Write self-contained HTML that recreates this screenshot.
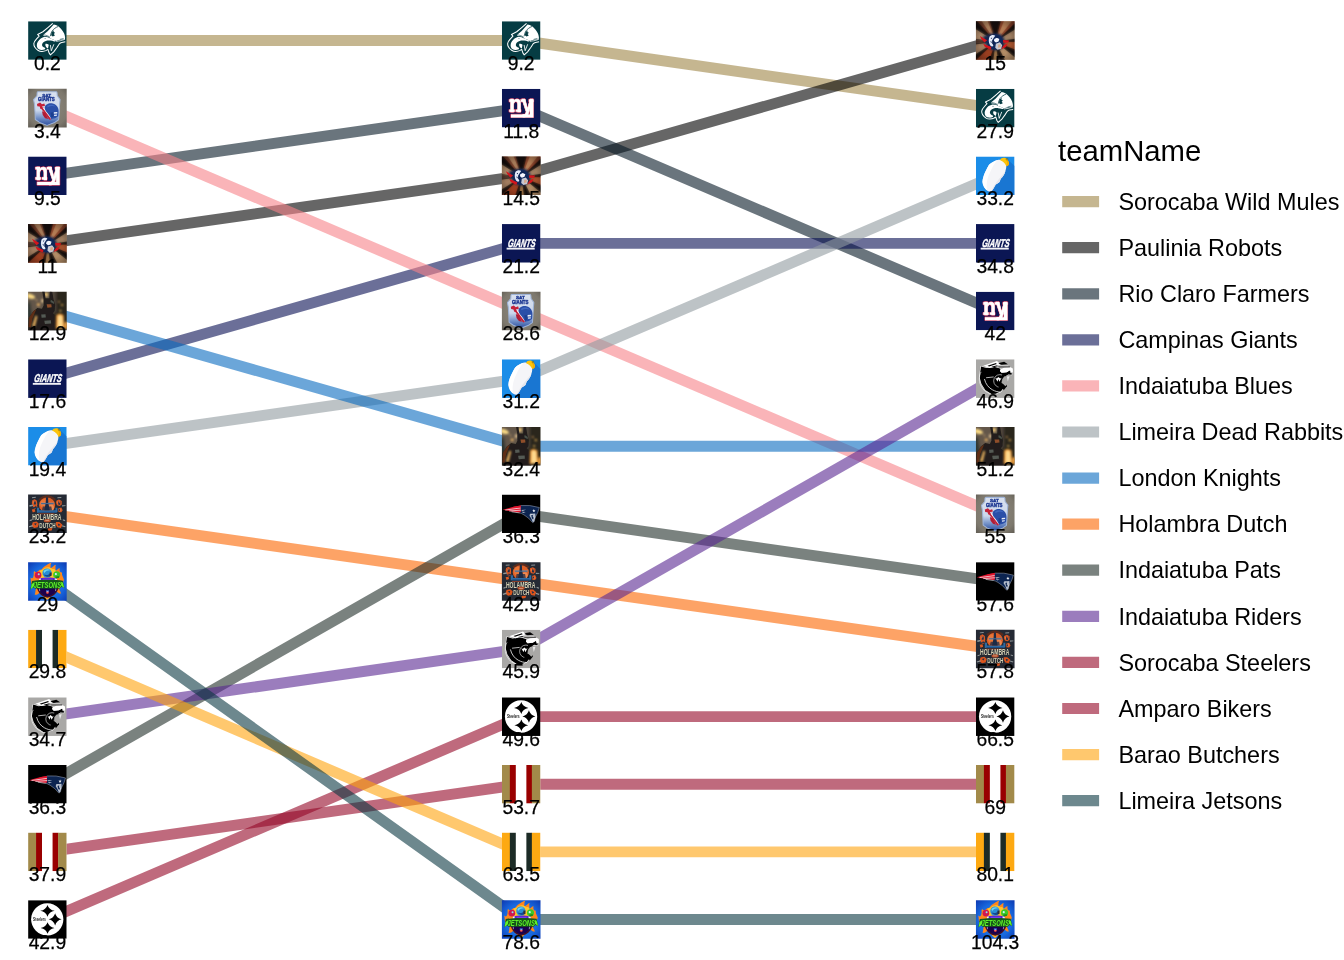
<!DOCTYPE html>
<html lang="en"><head><meta charset="utf-8"><title>teamName bump chart</title>
<style>
html,body{margin:0;padding:0;background:#fff;}
body{width:1344px;height:960px;overflow:hidden;}
svg{display:block;}
text{font-family:"Liberation Sans",sans-serif;fill:#000;}
.v{font-size:19.3px;text-anchor:middle;stroke:#000;stroke-width:.25px;}
.lg{font-size:23.4px;}
.lt{font-size:29.3px;}
</style></head><body>
<svg width="1344" height="960" viewBox="0 0 1344 960">
<defs>
<filter id="b1" x="-10%" y="-10%" width="120%" height="120%"><feGaussianBlur stdDeviation="1.2"/></filter>
<filter id="b2" x="-10%" y="-10%" width="120%" height="120%"><feGaussianBlur stdDeviation="1.8"/></filter>
<filter id="b3" x="-10%" y="-10%" width="120%" height="120%"><feGaussianBlur stdDeviation="2.6"/></filter>
<filter id="b4" x="-10%" y="-10%" width="120%" height="120%"><feGaussianBlur stdDeviation="4.6"/></filter>
<radialGradient id="vig" cx="50%" cy="52%" r="72%"><stop offset="0" stop-color="#000" stop-opacity="0"/><stop offset=".55" stop-color="#000" stop-opacity=".12"/><stop offset="1" stop-color="#000" stop-opacity=".62"/></radialGradient>
</defs>
<rect width="1344" height="960" fill="#fff"/>
<g fill="none" stroke-width="10.9" stroke-linejoin="round" stroke-opacity="0.60">
<polyline stroke="#9e8546" points="47.4,40.5 521.2,40.5 995.2,108.2"/>
<polyline stroke="#000000" points="47.4,243.4 521.2,175.8 995.2,40.5"/>
<polyline stroke="#071926" points="47.4,175.8 521.2,108.2 995.2,311.0"/>
<polyline stroke="#080f53" points="47.4,378.6 521.2,243.4 995.2,243.4"/>
<polyline stroke="#f78289" points="47.4,108.2 521.2,311.0 995.2,513.8"/>
<polyline stroke="#919ba0" points="47.4,446.2 521.2,378.6 995.2,175.8"/>
<polyline stroke="#086bc0" points="47.4,311.0 521.2,446.2 995.2,446.2"/>
<polyline stroke="#fc6600" points="47.4,513.8 521.2,581.4 995.2,649.0"/>
<polyline stroke="#212f2a" points="47.4,784.3 521.2,513.8 995.2,581.4"/>
<polyline stroke="#582691" points="47.4,716.6 521.2,649.0 995.2,378.6"/>
<polyline stroke="#940726" points="47.4,919.5 521.2,716.6 995.2,716.6"/>
<polyline stroke="#940726" points="47.4,851.9 521.2,784.3 995.2,784.3"/>
<polyline stroke="#ffa30d" points="47.4,649.0 521.2,851.9 995.2,851.9"/>
<polyline stroke="#0c3943" points="47.4,581.4 521.2,919.5 995.2,919.5"/>
</g>
<svg x="28.10" y="21.25" width="38.60" height="38.60" viewBox="0 0 100 100" preserveAspectRatio="none" overflow="hidden"><rect width="100" height="100" fill="#063c43"/><path fill="none" stroke="#fff" stroke-width="2.7" stroke-linejoin="round" d="M63.8,5.4 L51.3,16.3 L38.3,27.2 L24.7,34.2 L28.6,38.4 L22,45.7 C18,50 15.4,54 14.9,57.6 C14.6,62 16,65 17.6,67.4 C20,71 22.4,73.4 25.2,75 C29,77.6 32.6,78.4 36.1,78.3 C40,78 43,77.4 45.9,76.1 L51.3,72.8 L54.6,82.6 L57.8,87 L66.5,79.3 L75.2,67.4 L80.7,58.7 C83,56.4 85,55.4 87.2,54.9 L96.4,53.3"/><path fill="#fff" d="M66.5,8.2 C70,9 74,10.4 77.4,12 C81,15 84.4,18.4 87.2,21.7 C90,25.4 92,29 93.7,32.6 C95,36 95.6,39.4 95.9,42.4 L95.3,46.7 L83.9,47.8 L77.4,48.9 L73,51.1 L66.5,47.8 L57.8,44.6 L53.5,40.2 L48,38.6 L39.3,37.5 L40.4,34.2 L51.3,25 L61.1,14.1Z"/><path fill="#fff" d="M42.6,40.2 L51.3,41.3 L57.8,44.6 L66.5,47.8 L73,51.1 C71,52.4 69,52.4 67.6,52.2 C64,51 61,50.2 57.8,50 C53,49.6 49,50 45.9,51.1 C42.6,52.2 40,53.4 38.3,55.4 C36.6,57.4 36,59.6 36.1,62 C36.6,64.4 38,66.4 40.4,67.4 L44.6,69.6 L43.7,72.8 C40,74.4 37,74.8 33.9,74.5 C30.4,74 27.6,72.6 25.2,70.7 C23.4,68 22.4,65 22.5,62 C22.8,58.6 23.6,55.8 25.2,53.3 C27.4,49.6 30,46.8 32.8,44.6 C36,42.4 39.4,41 42.6,40.2Z"/><path fill="#fff" d="M45,58.4 C48,57.4 51,58.6 53.5,61 L51.5,70.5 L47.6,68 C45,65 44.2,61.6 45,58.4Z"/><path fill="none" stroke="#fff" stroke-width="2.2" d="M57.6,61.4 L60.2,76.4 L66.8,59.6"/><path fill="none" stroke="#fff" stroke-width="2" d="M73,52.4 C76,51.6 79,50.8 83,50.6 L95.3,47"/><path fill="none" stroke="#063c43" stroke-width="2" d="M78,13.4 C72,16 66,20 62.4,25 C60,29 58.6,33 57.6,38.6"/><path fill="#063c43" d="M62,27 L67,23.6 L66,28 L70,30 L66.6,33 L69.6,37 L64,39.6 L60,37 C59.6,33 60.4,30 62,27Z"/><path fill="none" stroke="#063c43" stroke-width="1.5" d="M40.4,35.2 C46,36.2 52,37.8 56.6,41.4 M82,47 L92,44.6"/><ellipse cx="44.2" cy="45.1" rx="2.2" ry="1.2" fill="#4f7a80"/></svg>
<svg x="28.10" y="88.86" width="38.60" height="38.60" viewBox="0 0 100 100" preserveAspectRatio="none" overflow="hidden"><radialGradient id="u2a" cx="50%" cy="48%" r="72%"><stop offset="0" stop-color="#8f8a7e"/><stop offset=".6" stop-color="#7d786d"/><stop offset="1" stop-color="#47433c"/></radialGradient><linearGradient id="u2b" x1="0" y1="0" x2="0" y2="1"><stop offset="0" stop-color="#d9e1ef"/><stop offset=".55" stop-color="#ccd8ec"/><stop offset=".78" stop-color="#7391c8"/><stop offset="1" stop-color="#2a4c9e"/></linearGradient><rect x="-12" y="-12" width="124" height="124" fill="url(#u2a)"/><g filter="url(#b1)"><path fill="url(#u2b)" stroke="#9fb4d8" stroke-width="2.6" stroke-linejoin="round" d="M25.5,7.4 L73,7.4 Q75,7.6 75,10 L75.6,18 L82.8,28 L81.6,40 L80.4,62 L79,80 L69,87 L49.1,94.6 L29.6,87 L18.7,79.3 L18,62 L16.6,40 L14.3,28 L23,18 L23.4,10 Q23.6,7.6 25.5,7.4Z"/><text x="48" y="19.8" text-anchor="middle" font-size="11" font-weight="bold" textLength="23" lengthAdjust="spacingAndGlyphs" style="fill:#213b94;stroke:#213b94;stroke-width:1">SAT</text><text x="47.4" y="32.6" text-anchor="middle" font-size="15.5" font-weight="bold" textLength="43" lengthAdjust="spacingAndGlyphs" style="fill:#213b94;stroke:#213b94;stroke-width:1.3">GIANTS</text><path fill="#c42038" d="M23,39 L31,35.6 L36,40 L42,38 L44,44 L36,46 L40,52 L32,52 L30,46 L24,45Z"/><path fill="#c42038" d="M33,50 L40,47 L62,78 L55,80Z"/><path fill="#fff" d="M37.6,49 L41.6,47.6 L62,75.6 L59,77.4Z"/><path fill="#b01c34" d="M36,58 L44,62 L52,78 L44,76 L38,68Z"/><path fill="#2b4fa8" d="M43,49 C44,40 55,35.6 64,38 C75,41 80,50 79,60 L78,71 L70,76 L60,78 L55,69 L49,61 C45,57 43,53 43,49Z"/><path fill="#4168c0" d="M50,44 C56,39.6 66,40 72,46 C66,44 58,44 50,48Z"/><path fill="#e8eefa" d="M66,60.6 L75.6,60 L75.6,63.6 L66,64.6Z M67,67 L75,66.4 L74.6,69.4 L67.6,70.4Z"/><path fill="#1f3f90" d="M58,62 L66,60 L66,72 L60,75Z"/></g></svg>
<svg x="28.10" y="156.47" width="38.60" height="38.60" viewBox="0 0 100 100" preserveAspectRatio="none" overflow="hidden"><rect width="100" height="100" fill="#0b1654"/><g style="fill:#b8123a;stroke:#b8123a;stroke-width:3.4;stroke-linejoin:round"><text x="50" y="60.4" text-anchor="middle" font-size="62" font-weight="bold" textLength="62" lengthAdjust="spacingAndGlyphs" style="fill:#b8123a;stroke:#b8123a;stroke-width:3.6">ny</text><path d="M23.5,66.2 H72.6 V30 H81.6 V74 H23.5Z M19,27.4 h12 v6 h-12z M48.6,27.4 h12 v6 h-12z M70,27.4 h12 v6 h-12z M19,54 h14 v5.6 h-14z M36,54 h13 v5.6 h-13z"/></g><g style="fill:#fff;stroke:#fff;stroke-width:1;stroke-linejoin:round"><text x="50" y="60.4" text-anchor="middle" font-size="62" font-weight="bold" textLength="62" lengthAdjust="spacingAndGlyphs" style="fill:#fff;stroke:#fff;stroke-width:1.5">ny</text><path d="M23.5,66.2 H72.6 V30 H81.6 V74 H23.5Z M19,27.4 h12 v6 h-12z M48.6,27.4 h12 v6 h-12z M70,27.4 h12 v6 h-12z M19,54 h14 v5.6 h-14z M36,54 h13 v5.6 h-13z"/></g></svg>
<svg x="28.10" y="224.08" width="38.60" height="38.60" viewBox="0 0 100 100" preserveAspectRatio="none" overflow="hidden"><g filter="url(#b3)"><rect x="-12" y="-12" width="124" height="124" fill="#17110e"/><polygon fill="#93452a" points="54.4,39.4 72.8,-34.3 115.7,-9.5 61.1,43.3"/><polygon fill="#c58a5e" points="56.2,40.0 84.7,-30.4 106.4,-17.9 59.6,42.0"/><polygon fill="#7a3c28" points="41.6,42.6 -9.2,-13.9 26.2,-33.5 47.1,39.5"/><polygon fill="#b98a64" points="43.2,41.4 0.7,-21.6 18.7,-31.0 46.0,39.9"/><polygon fill="#b89270" points="37.1,51.1 -38.1,40.5 -25.3,5.3 39.1,45.6"/><polygon fill="#b08868" points="39.1,60.4 -25.3,100.7 -38.1,65.5 37.1,54.9"/><polygon fill="#54382c" points="37.1,54.2 -38.7,60.8 -38.3,42.0 37.1,51.3"/><polygon fill="#ad8a6a" points="62.9,45.6 127.3,5.3 139.9,38.9 64.8,50.8"/><polygon fill="#b45a32" points="65.0,53.2 141.0,54.6 134.4,86.7 64.0,58.2"/><polygon fill="#c49a70" points="61.9,61.8 120.9,109.6 91.9,133.2 57.4,65.5"/><polygon fill="#a87a4c" points="52.7,66.9 62.0,142.3 40.0,142.3 49.3,66.9"/><polygon fill="#a84424" points="46.4,66.2 21.7,138.1 -14.8,114.4 40.8,62.5"/></g><g opacity=".5"><rect x="-12" y="-12" width="124" height="124" fill="#17110e"/><polygon fill="#93452a" points="54.4,39.4 72.8,-34.3 115.7,-9.5 61.1,43.3"/><polygon fill="#c58a5e" points="56.2,40.0 84.7,-30.4 106.4,-17.9 59.6,42.0"/><polygon fill="#7a3c28" points="41.6,42.6 -9.2,-13.9 26.2,-33.5 47.1,39.5"/><polygon fill="#b98a64" points="43.2,41.4 0.7,-21.6 18.7,-31.0 46.0,39.9"/><polygon fill="#b89270" points="37.1,51.1 -38.1,40.5 -25.3,5.3 39.1,45.6"/><polygon fill="#b08868" points="39.1,60.4 -25.3,100.7 -38.1,65.5 37.1,54.9"/><polygon fill="#54382c" points="37.1,54.2 -38.7,60.8 -38.3,42.0 37.1,51.3"/><polygon fill="#ad8a6a" points="62.9,45.6 127.3,5.3 139.9,38.9 64.8,50.8"/><polygon fill="#b45a32" points="65.0,53.2 141.0,54.6 134.4,86.7 64.0,58.2"/><polygon fill="#c49a70" points="61.9,61.8 120.9,109.6 91.9,133.2 57.4,65.5"/><polygon fill="#a87a4c" points="52.7,66.9 62.0,142.3 40.0,142.3 49.3,66.9"/><polygon fill="#a84424" points="46.4,66.2 21.7,138.1 -14.8,114.4 40.8,62.5"/></g><rect x="-2" y="-2" width="104" height="104" fill="url(#vig)" opacity=".8"/><g filter="url(#b3)"><path fill="#14264f" d="M18,40 L36,33 L50,31 L64,34 L73,45 L74,58 L67,71 L52,76 L38,73 L29,65 L21,52Z"/></g><ellipse cx="49.6" cy="53.4" rx="19.8" ry="19.6" fill="#10295c"/><path fill="#d4141c" d="M10,38 L29,49 L22,55 L15,47Z M19,58 L40,67 L37.4,73.6 L23,66Z M69.8,48.4 L86,49.6 L83.4,55 L71,56Z M70.9,63 L82.4,57 L78,67 L66,72.6Z"/><path fill="#e4eaf8" d="M35,40 C39,34.6 47,34.6 50,37.6 C47,41 45,44 43,48 C45,52 43,58 45,63 C43,67 38.6,65 36,61 C32.6,55 32.4,46 35,40Z"/><path fill="#f4f6ff" d="M47.6,46 L54,42.6 L60.6,46 L58.6,52.6 L52,55 L46.6,51.6Z"/><path fill="#c9c9d2" d="M51.6,58 L62,54.6 L68,62 L65,71 L56,74 L50,68.6Z"/><path fill="#d8aa8c" d="M58,60 L64.6,60 L63.6,67.6 L57,68.6Z"/><path fill="#0d2150" d="M42,48 L48,52 L46,62 L42,58Z M50,40 L56,38 L60,42 L54,43Z M38,44 L42,42 L41,46Z M37,52 L41,53 L40,57Z"/></svg>
<svg x="28.10" y="291.69" width="38.60" height="38.60" viewBox="0 0 100 100" preserveAspectRatio="none" overflow="hidden"><g filter="url(#b4)"><rect x="-12" y="-12" width="124" height="124" fill="#332d27"/><rect x="-12" y="-12" width="68" height="76" fill="#63564a"/><rect x="56" y="-12" width="16" height="66" fill="#51473d"/><rect x="72" y="-12" width="40" height="124" fill="#29251f"/><path fill="#2c3432" d="M-6,28 L5,26 L11,64 L-6,68Z"/></g><g filter="url(#b3)"><path fill="#f8d884" d="M-4,4 L8,6 L17,11 L18,17.6 L8,19 L-4,15Z"/><ellipse cx="47" cy="8" rx="4.6" ry="5.6" fill="#f5cc78"/><ellipse cx="26.6" cy="33.6" rx="4" ry="3.8" fill="#ecb464"/><ellipse cx="37.6" cy="24" rx="4" ry="5.6" fill="#d9b98a"/><ellipse cx="22" cy="22" rx="2.4" ry="2.4" fill="#b99566"/><ellipse cx="80" cy="26" rx="2.6" ry="2.6" fill="#b98a50"/><ellipse cx="88" cy="34.4" rx="3.2" ry="2.8" fill="#c79a4a"/><ellipse cx="83.6" cy="49.6" rx="3" ry="3" fill="#c9a04e"/></g><g filter="url(#b2)"><path fill="#211f1b" d="M36,-4 L42.6,-2 L45,17 L55,17 L56.4,-2 L62.6,0 L66,20 L70,34 L69,50 L64,56 L72,62 L76,80 L76,110 L0,110 L2,68 L13,51 L24,42 L36,44 L40,36 L40,20Z"/><path fill="#8f4e2a" d="M48,32.6 L60,32.6 L61,40.6 L50,41.6Z"/><path fill="#4a514b" d="M59,21 L67,26 L67,32 L58,27Z"/><path fill="#555a54" d="M34,59.4 L45,58.6 L46,66.6 L35,67.4Z M42,75 L59,74 L59.6,82.6 L43.6,84Z"/><path fill="#5e2e16" d="M3,66 L14,50 L21,46 L11,70 L7,92 L1,92Z"/></g><g filter="url(#b3)"><path fill="#f09a30" d="M73,62 C78,55 88,57 92,62 L94,94 L72,96Z"/><path fill="#ffdc90" d="M77.6,63 C82,59 87.6,61 88.6,66 L90,92 L76.6,94Z"/><path fill="#f0a040" d="M95,79 L106,77 L106,96 L94,96Z"/><path fill="#f0b860" d="M19.6,61 L24,64 L17.6,90 L10,90Z"/></g></svg>
<svg x="28.10" y="359.30" width="38.60" height="38.60" viewBox="0 0 100 100" preserveAspectRatio="none" overflow="hidden"><rect width="100" height="100" fill="#0b1654"/><text transform="skewX(-9)" x="59.6" y="58.6" text-anchor="middle" font-size="29.5" font-weight="bold" font-style="italic" textLength="71" lengthAdjust="spacingAndGlyphs" style="fill:#fff;stroke:#fff;stroke-width:1.1">GIANTS</text><rect x="12.2" y="61.2" width="72.8" height="4.8" fill="#f2f2f6"/></svg>
<svg x="28.10" y="426.91" width="38.60" height="38.60" viewBox="0 0 100 100" preserveAspectRatio="none" overflow="hidden"><rect width="100" height="100" fill="#1b8de8"/><path fill="#1976d2" d="M84,9 L100,25 L100,100 L40,100 L28,88 L60,50 Z"/><path fill="#f5f5f8" d="M63.3,8.7 C68,10.6 72,13 75.2,16.3 C77.6,19 78.6,22 78.5,25 C78.6,30 77.6,34 76.3,38 C75.4,42 74,45 72,47.8 C70,51.6 67,54.6 64.3,57.6 L61.1,66.3 C58,69 54.6,71 51.3,72.8 L45.9,82.6 C44,86 42,89 39.3,91.3 C36,92 32.6,91 29.6,89.1 C26,86.4 23,83 20.9,79.3 C18.4,75 16.8,70.6 16.5,66.3 C16.6,61 17.8,56 19.8,51.1 C21.4,46 23.6,41 26.3,35.9 C28.4,31 31,26 33.9,21.7 C37,18 41,15 45.9,13 C49,11.2 52.4,10 55.7,9.2 C58.4,8.6 61,8.4 63.3,8.7Z"/><path fill="#ffffff" d="M55.7,9.2 C45.9,13 37,18 33.9,21.7 C28.4,31 21.4,46 19.8,51.1 C16.6,61 16.4,68 20.9,79.3 C23,83 26,86.4 29.6,89.1 C26,76 28,58 36,42 C41,30 48,18 55.7,9.2Z"/><path fill="#e6e6ec" d="M76.3,38 C74,46 70,52 64.3,57.6 L61.1,66.3 L51.3,72.8 L45.9,82.6 C44,86 42,89 39.3,91.3 C42,82 50,70 58,60 C65,52 71,45 76.3,38Z"/><path fill="#fcc40c" d="M62,9.4 Q66,2 75,3.4 Q84,7 85.6,17 Q85.6,24 78.6,25.4 Q75.6,16 62,9.4Z"/><path fill="#f5ad00" d="M75,3.6 Q83,7 85.6,17 Q85.6,24 78.6,25.4 Q84,15 75,3.6Z"/><circle cx="80.6" cy="7" r="2.4" fill="none" stroke="#6b6a1c" stroke-width="1.5"/></svg>
<svg x="28.10" y="494.52" width="38.60" height="38.60" viewBox="0 0 100 100" preserveAspectRatio="none" overflow="hidden"><rect x="-12" y="-12" width="124" height="124" fill="#252a34"/><g filter="url(#b1)"><path fill="#5a2c1c" d="M27,12 Q49,-8 72,12 L68,16 Q49,0 31,16Z"/><ellipse cx="49.1" cy="27" rx="21" ry="19" fill="#dd5f28"/><ellipse cx="42" cy="24" rx="11" ry="12" fill="#ea7436"/><ellipse cx="60" cy="34" rx="7" ry="8" fill="#ee8a52"/><path fill="#de5a24" d="M11,15 L17,12 L23,16 L24,27 L19,33 L12,30 L9.6,22Z M14,28 L22,25 L24.6,33 L18,37 L12,34Z M9.6,39 L17,37.6 L18.6,44 L12,46.4Z"/><path fill="#de5a24" d="M73,16 L80,13 L87,17 L87,26 L82,30 L75,28 L72.6,22Z M78,36 L86,33.6 L89.6,41 L86,46 L79,45.6Z"/><path fill="#f08a4c" d="M13,18 L16,16 L17,22 L14,23Z M76,19 L79,17 L80,23 L77,24Z M81,38 L84,37 L85,42 L82,43Z"/><path fill="#23304a" d="M15,14 L18,22 L21,15 L20,26 L15,26Z M78,15 L81,23 L84,16 L83,27 L78,26Z M18,28 L21,33 L17,35Z M80,36 L84,40 L80,44Z M11,33 L24,31 L24,34 L11,36Z"/><path fill="#8f9698" d="M3,28 L12,26 L13,30 L4,31.6Z M88,27.6 L97,28 L97,30 L88,31Z M10,7 L20,6 L20,8.6 L10,9.4Z M76,7 L86,6.4 L86,9 L76,9.6Z"/><path fill="#2f6ba3" d="M23,41 L74,41 L74,47 L23,47Z M23,34 L28.6,34 L28.6,45 L23,45Z M71,34 L76,34 L76,45 L71,45Z"/><path fill="#1f4e80" d="M27,44.6 L72,44.6 L72,47.4 L27,47.4Z"/><path fill="#8ea0b2" d="M33,20.6 L66.5,20.6 L66.5,26 L33,26Z" opacity=".55"/><path fill="#1c2a44" d="M46.6,7 L51.6,7 L52.4,22 L56,41 L42,41 L45.6,22Z"/><path fill="#466a92" d="M33.6,22 L66,22 L66,24.8 L33.6,24.8Z"/><path fill="#1c2a44" d="M38,31 L60,31 L62,41 L36,41Z" opacity=".75"/><path fill="#c84a22" d="M26,49.4 L68,49.4 L68,51 L26,51Z"/><path fill="#dc541e" d="M12,72 L22,70 L28,76 L25,85 L16,87 L9,82Z M72,71 L81,71 L89,78 L85,87 L76,85 L72,78Z M51,88 L63,87 L61,93 L52,94Z"/><path fill="#23304a" d="M15,76 L22,74 L20,80Z M77,75 L84,78 L79,82Z"/><path fill="#8f9698" d="M2,82 L12,79 L12,82.6 L3,85Z M88,79.6 L97,82 L96,85 L88,82.6Z M4,66 L10,64 L10,67 L4,69Z M90,64 L96,66 L96,69 L90,67Z"/><text x="48.5" y="66.6" text-anchor="middle" font-size="25" font-weight="bold" textLength="76" lengthAdjust="spacingAndGlyphs" style="fill:#d6d2b4;stroke:#1a1e28;stroke-width:.5;paint-order:stroke">HOLAMBRA</text><text x="50.2" y="85.6" text-anchor="middle" font-size="21" font-weight="bold" textLength="42" lengthAdjust="spacingAndGlyphs" style="fill:#d6d2b4;stroke:#1a1e28;stroke-width:.5;paint-order:stroke">DUTCH</text><ellipse cx="49.6" cy="67.8" rx="9.2" ry="4.4" fill="#b9502a"/><path fill="#e9d9c0" d="M44.6,67.2 L54.6,67.2 L54.6,68.4 L44.6,68.4Z"/></g></svg>
<svg x="28.10" y="562.13" width="38.60" height="38.60" viewBox="0 0 100 100" preserveAspectRatio="none" overflow="hidden"><radialGradient id="u9a" cx="50%" cy="52%" r="70%"><stop offset="0" stop-color="#2390f2"/><stop offset=".5" stop-color="#1868de"/><stop offset="1" stop-color="#07209a"/></radialGradient><rect x="-12" y="-12" width="124" height="124" fill="url(#u9a)"/><g filter="url(#b1)"><path fill="#ff861c" d="M61,1 C56,8 60,12 57,17 C63,14 67,8 72,7 C69,13 73,17 70,23 C76,20 80,14 82,16 C80,24 84,28 88,27 C86,34 92,40 93,46 C90,48 92,56 88,62 L80,70 C84,76 86,80 84,82 C78,80 74,76 70,74 L60,86 C56,92 52,96 49,98 C46,92 40,90 36,86 L30,78 C26,84 20,86 17,84 C20,78 18,72 21,68 L10,60 C6,54 8,46 6,40 C10,44 13,42 14,36 C16,30 13,26 16,23 C20,28 24,26 28,22 C30,18 34,22 36,18 C38,12 46,10 50,6 C54,4 58,2 61,1Z"/><path fill="#ffc62c" d="M38,19 C46,11 56,12 63,18 C70,16 74,23 72,29 C78,34 72,45 65,47 L35,47 C26,43 25,33 30,28 C30,21 34,19 38,19Z"/><path fill="#ffb02a" d="M40,88 C44,84 54,84 58,88 C56,93 52,95.6 49,97 C46,94 42,92 40,88Z"/><path fill="#4a1020" d="M22,62 C30,56 70,56 80,62 C78,80 62,92 50,92 C38,92 24,80 22,62Z"/><path fill="#1c064e" d="M24,60 C34,55 68,55 78,60 C76,77 62,88.6 50,88.6 C38,88.6 26,77 24,60Z"/><path fill="#5a22c8" d="M30,42 C40,39 62,39 74,42 L76,52 L28,52Z"/><path fill="#f1ecff" d="M28.6,43 L33,41.6 L33,49 L28,50Z M69,41.6 L74.6,43 L75,50 L69,49Z"/><path fill="#7a3cf0" d="M38,43 L64,43 L64,46 L38,46Z"/><circle cx="25.8" cy="33.7" r="8.6" fill="#d01850"/><circle cx="27.6" cy="31.4" r="2.6" fill="#8fe0f0"/><circle cx="74.1" cy="32.6" r="9.2" fill="#3cc828"/><circle cx="72" cy="31" r="2.8" fill="#c9f4ff"/><path fill="#1b8a1e" d="M70,38 L80,36 L80,41 L72,42Z"/><circle cx="49.1" cy="28.3" r="12" fill="#2a8fd6"/><path fill="#6fd6f2" d="M40,24 C43,17.6 53,16.6 58,21 C52,20.6 46,22 42,28Z"/><path fill="#14488f" d="M40,32 C44,38 54,40 59,36 L58,28 C54,34 46,34 40,32Z"/><path fill="#2b2f3f" d="M55.6,27 L61,27 L61,35.6 L56,36.6Z"/><path fill="none" stroke="#e8e4ff" stroke-width="1.6" stroke-dasharray="2.2 1.4" d="M33,65.6 L67,65.6"/><path fill="none" stroke="#cfc6f4" stroke-width="1.6" d="M29,66 L30,75 M72,66 L71,75"/><path fill="#2a55c0" d="M46.4,72.4 L54,72.4 L54,77 L46.4,77Z"/><path fill="#e23a3a" d="M46.4,77 L54,77 L53,81 L50.2,82.6 L47.4,81Z"/><path fill="#fff" d="M48,76 L52.6,76 L52.6,78 L48,78Z"/><path fill="#14551b" d="M10,49 C30,45 70,45 90,48 L94,67 L87,64 L82,68.6 L18,68.6 L13,65 L6,71Z"/><path fill="#62f22c" d="M9,57 L17,51 L16,62 L7,70Z M84,51 L90,53 L93.6,67 L86,61Z"/><text x="50" y="66" text-anchor="middle" font-size="25" font-weight="bold" font-style="italic" textLength="71" lengthAdjust="spacingAndGlyphs" style="fill:#5ef02a;stroke:#124d18;stroke-width:1.7;paint-order:stroke">JETSONS</text></g></svg>
<svg x="28.10" y="629.74" width="38.60" height="38.60" viewBox="0 0 100 100" preserveAspectRatio="none" overflow="hidden"><rect width="100" height="100" fill="#fff"/><rect x="0" width="21" height="100" fill="#fda912"/><rect x="20.6" width="15.4" height="100" fill="#1c2b26"/><rect x="63.4" width="14.6" height="100" fill="#1c2b26"/><rect x="77.6" width="22.4" height="100" fill="#fda912"/></svg>
<svg x="28.10" y="697.35" width="38.60" height="38.60" viewBox="0 0 100 100" preserveAspectRatio="none" overflow="hidden"><rect width="100" height="100" fill="#a9a8a6"/><path fill="#000" stroke="#fff" stroke-width="2.6" stroke-linejoin="round" style="paint-order:stroke" d="M13.3,18.5 L27.4,22.8 L49.1,20.1 L62.2,23.9 L64.3,25 L62.2,30.4 L66.5,34.8 L79.6,33.7 L87.2,29.3 L92.6,33.7 L92.6,40.2 L83.9,39.1 L78.5,42.4 L73,44.6 L67.6,51.1 L66.5,62 L72,66.3 L70.9,75 L64.3,83.7 L51.3,89.1 L40.4,90.2 L24.1,79.3 L14.3,64.1 L10,48.9 L11.1,32.6 Z"/><path fill="#fff" d="M18.7,16.8 L54.6,4.3 L63.3,13 L53.5,18.5 L35,22.3Z"/><path fill="#000" d="M30,16.4 L52,9.4 L54,12 L34,18.4Z M40,19.4 L58,14.6 L59,17 L46,20.4Z"/><path fill="none" stroke="#fff" stroke-width="1.6" d="M53,6 L57.6,17"/><path fill="#000" d="M62.2,8.7 L73,6.5 L82.8,13 L73,13.4 L66.5,14.4 L58,11Z"/><path fill="#fff" d="M64.3,25 L73,21.8 L90,20.6 L95.6,24 L95.8,33.4 L89.6,35.4 L88.6,28 L80,33.6 L66.5,34.8 L62.2,30.4Z"/><path fill="none" stroke="#fff" stroke-width="1.5" d="M55,16.6 L84,17.4"/><path fill="none" stroke="#000" stroke-width="1.6" d="M58,19.6 L88,19.6"/><circle cx="62.2" cy="56" r="16.3" fill="none" stroke="#fff" stroke-width="1.5"/><path fill="#000" d="M67.6,38 L80,44 L80,70 L72,80 L67,70 Z"/><path fill="#a9a8a6" d="M73,44.8 L84,42 L92,41 L86,60 L76,70 L72.6,66 L67.2,62 L68,51.4Z"/><path fill="none" stroke="#fff" stroke-width="1.8" d="M26.3,47.8 L45.9,45.7"/><path fill="none" stroke="#fff" stroke-width="2" d="M22,51 C25,64 33,74 42.6,79 C50,83 57,85 64.3,84.8"/><path fill="#fff" d="M50,47.6 L56,58 L58,51 L61,58 L66.4,47.6 L63,50 L58,46 L54,50Z"/><path fill="none" stroke="#fff" stroke-width="1.5" d="M13.3,32.6 C7,44 7,60 14.3,70.7 C19,79 24,84 29.6,85.9 L40.4,92.4"/><path fill="#e9e9e9" d="M80,44.4 L87,44 L82.6,57.6Z"/><path fill="#000" d="M60,62 L67,62 L72,66.3 L70.9,75 L64,80 L58,72Z"/></svg>
<svg x="28.10" y="764.96" width="38.60" height="38.60" viewBox="0 0 100 100" preserveAspectRatio="none" overflow="hidden"><rect width="100" height="100" fill="#000"/><path fill="#e0162e" d="M2.4,39.4 L30,31.6 L48.8,28.4 L51,46.6 L43,46.6 L24,43.8Z"/><path fill="none" stroke="#f7f7f9" stroke-width="1.9" d="M9,40.2 L50,34.6 M19,42.6 L51,40.4"/><path fill="none" stroke="#eef0f4" stroke-width="1.7" d="M25,44.6 L46,47.6"/><path fill="#0c2450" d="M48.4,28.6 Q72,26 97,33.7 L93,46 L87,58 L83,71 L79.6,72.8 Q70,60 57,52.6 Q51,49 45,47.2 L49.4,45 Z"/><path fill="none" stroke="#b4bcc8" stroke-width="1.2" stroke-linejoin="round" d="M48.4,28.6 Q72,26 97,33.7 L93,46 L87,58 L83,71 L79.6,72.8 Q70,60 57,52.6 Q51,49 45,47.2"/><path fill="#e0162e" d="M30,31.6 L48.8,28.4 L49.6,33 L30,34.6Z"/><path fill="#b4bdcc" d="M72.6,50 L86.6,49 L87,57 L83.6,69.6 L80,72 Q77,62 71.6,55Z"/><path fill="#0c2450" d="M76,53 l4.6,.6 l-.8,4.4 l3,2.4 l-2.2,4.4 l-3,-3.6z"/><path fill="#dfe3ea" d="M74,51 l4,-.4 l-1,3z M82,60 l3,-1 l-1.4,5z"/><path fill="#fff" d="M82.8,37.8 L83.9,40.7 L87.0,40.8 L84.5,42.8 L85.4,45.8 L82.8,44.0 L80.2,45.8 L81.1,42.8 L78.6,40.8 L81.7,40.7Z"/><path fill="#e8eaee" d="M49.6,40 l13,-.6 l-9,2.8z M51,44.6 l11,1 l-7,1.6z"/></svg>
<svg x="28.10" y="832.57" width="38.60" height="38.60" viewBox="0 0 100 100" preserveAspectRatio="none" overflow="hidden"><rect width="100" height="100" fill="#fff"/><rect x="0" width="21" height="100" fill="#a28a4a"/><rect x="20.6" width="15.4" height="100" fill="#990000"/><rect x="63.4" width="14.6" height="100" fill="#990000"/><rect x="77.6" width="22.4" height="100" fill="#a28a4a"/></svg>
<svg x="28.10" y="900.18" width="38.60" height="38.60" viewBox="0 0 100 100" preserveAspectRatio="none" overflow="hidden"><rect width="100" height="100" fill="#000"/><circle cx="49.6" cy="49.6" r="41.8" fill="#fff"/><path fill="#000" d="M50.2,12.2 Q53.9,24.5 68.8,27.6 Q53.9,30.7 50.2,43.0 Q46.5,30.7 31.6,27.6 Q46.5,24.5 50.2,12.2Z M70.0,33.6 Q73.4,46.4 86.8,49.6 Q73.4,52.8 70.0,65.6 Q66.6,52.8 53.2,49.6 Q66.6,46.4 70.0,33.6Z M50.4,57.2 Q54.0,69.2 68.4,72.2 Q54.0,75.2 50.4,87.2 Q46.8,75.2 32.4,72.2 Q46.8,69.2 50.4,57.2Z"/><text x="13" y="53.4" font-size="11.5" font-weight="bold" textLength="33" lengthAdjust="spacingAndGlyphs" style="fill:#222">Steelers</text></svg>
<svg x="501.90" y="21.25" width="38.60" height="38.60" viewBox="0 0 100 100" preserveAspectRatio="none" overflow="hidden"><rect width="100" height="100" fill="#063c43"/><path fill="none" stroke="#fff" stroke-width="2.7" stroke-linejoin="round" d="M63.8,5.4 L51.3,16.3 L38.3,27.2 L24.7,34.2 L28.6,38.4 L22,45.7 C18,50 15.4,54 14.9,57.6 C14.6,62 16,65 17.6,67.4 C20,71 22.4,73.4 25.2,75 C29,77.6 32.6,78.4 36.1,78.3 C40,78 43,77.4 45.9,76.1 L51.3,72.8 L54.6,82.6 L57.8,87 L66.5,79.3 L75.2,67.4 L80.7,58.7 C83,56.4 85,55.4 87.2,54.9 L96.4,53.3"/><path fill="#fff" d="M66.5,8.2 C70,9 74,10.4 77.4,12 C81,15 84.4,18.4 87.2,21.7 C90,25.4 92,29 93.7,32.6 C95,36 95.6,39.4 95.9,42.4 L95.3,46.7 L83.9,47.8 L77.4,48.9 L73,51.1 L66.5,47.8 L57.8,44.6 L53.5,40.2 L48,38.6 L39.3,37.5 L40.4,34.2 L51.3,25 L61.1,14.1Z"/><path fill="#fff" d="M42.6,40.2 L51.3,41.3 L57.8,44.6 L66.5,47.8 L73,51.1 C71,52.4 69,52.4 67.6,52.2 C64,51 61,50.2 57.8,50 C53,49.6 49,50 45.9,51.1 C42.6,52.2 40,53.4 38.3,55.4 C36.6,57.4 36,59.6 36.1,62 C36.6,64.4 38,66.4 40.4,67.4 L44.6,69.6 L43.7,72.8 C40,74.4 37,74.8 33.9,74.5 C30.4,74 27.6,72.6 25.2,70.7 C23.4,68 22.4,65 22.5,62 C22.8,58.6 23.6,55.8 25.2,53.3 C27.4,49.6 30,46.8 32.8,44.6 C36,42.4 39.4,41 42.6,40.2Z"/><path fill="#fff" d="M45,58.4 C48,57.4 51,58.6 53.5,61 L51.5,70.5 L47.6,68 C45,65 44.2,61.6 45,58.4Z"/><path fill="none" stroke="#fff" stroke-width="2.2" d="M57.6,61.4 L60.2,76.4 L66.8,59.6"/><path fill="none" stroke="#fff" stroke-width="2" d="M73,52.4 C76,51.6 79,50.8 83,50.6 L95.3,47"/><path fill="none" stroke="#063c43" stroke-width="2" d="M78,13.4 C72,16 66,20 62.4,25 C60,29 58.6,33 57.6,38.6"/><path fill="#063c43" d="M62,27 L67,23.6 L66,28 L70,30 L66.6,33 L69.6,37 L64,39.6 L60,37 C59.6,33 60.4,30 62,27Z"/><path fill="none" stroke="#063c43" stroke-width="1.5" d="M40.4,35.2 C46,36.2 52,37.8 56.6,41.4 M82,47 L92,44.6"/><ellipse cx="44.2" cy="45.1" rx="2.2" ry="1.2" fill="#4f7a80"/></svg>
<svg x="501.90" y="88.86" width="38.60" height="38.60" viewBox="0 0 100 100" preserveAspectRatio="none" overflow="hidden"><rect width="100" height="100" fill="#0b1654"/><g style="fill:#b8123a;stroke:#b8123a;stroke-width:3.4;stroke-linejoin:round"><text x="50" y="60.4" text-anchor="middle" font-size="62" font-weight="bold" textLength="62" lengthAdjust="spacingAndGlyphs" style="fill:#b8123a;stroke:#b8123a;stroke-width:3.6">ny</text><path d="M23.5,66.2 H72.6 V30 H81.6 V74 H23.5Z M19,27.4 h12 v6 h-12z M48.6,27.4 h12 v6 h-12z M70,27.4 h12 v6 h-12z M19,54 h14 v5.6 h-14z M36,54 h13 v5.6 h-13z"/></g><g style="fill:#fff;stroke:#fff;stroke-width:1;stroke-linejoin:round"><text x="50" y="60.4" text-anchor="middle" font-size="62" font-weight="bold" textLength="62" lengthAdjust="spacingAndGlyphs" style="fill:#fff;stroke:#fff;stroke-width:1.5">ny</text><path d="M23.5,66.2 H72.6 V30 H81.6 V74 H23.5Z M19,27.4 h12 v6 h-12z M48.6,27.4 h12 v6 h-12z M70,27.4 h12 v6 h-12z M19,54 h14 v5.6 h-14z M36,54 h13 v5.6 h-13z"/></g></svg>
<svg x="501.90" y="156.47" width="38.60" height="38.60" viewBox="0 0 100 100" preserveAspectRatio="none" overflow="hidden"><g filter="url(#b3)"><rect x="-12" y="-12" width="124" height="124" fill="#17110e"/><polygon fill="#93452a" points="54.4,39.4 72.8,-34.3 115.7,-9.5 61.1,43.3"/><polygon fill="#c58a5e" points="56.2,40.0 84.7,-30.4 106.4,-17.9 59.6,42.0"/><polygon fill="#7a3c28" points="41.6,42.6 -9.2,-13.9 26.2,-33.5 47.1,39.5"/><polygon fill="#b98a64" points="43.2,41.4 0.7,-21.6 18.7,-31.0 46.0,39.9"/><polygon fill="#b89270" points="37.1,51.1 -38.1,40.5 -25.3,5.3 39.1,45.6"/><polygon fill="#b08868" points="39.1,60.4 -25.3,100.7 -38.1,65.5 37.1,54.9"/><polygon fill="#54382c" points="37.1,54.2 -38.7,60.8 -38.3,42.0 37.1,51.3"/><polygon fill="#ad8a6a" points="62.9,45.6 127.3,5.3 139.9,38.9 64.8,50.8"/><polygon fill="#b45a32" points="65.0,53.2 141.0,54.6 134.4,86.7 64.0,58.2"/><polygon fill="#c49a70" points="61.9,61.8 120.9,109.6 91.9,133.2 57.4,65.5"/><polygon fill="#a87a4c" points="52.7,66.9 62.0,142.3 40.0,142.3 49.3,66.9"/><polygon fill="#a84424" points="46.4,66.2 21.7,138.1 -14.8,114.4 40.8,62.5"/></g><g opacity=".5"><rect x="-12" y="-12" width="124" height="124" fill="#17110e"/><polygon fill="#93452a" points="54.4,39.4 72.8,-34.3 115.7,-9.5 61.1,43.3"/><polygon fill="#c58a5e" points="56.2,40.0 84.7,-30.4 106.4,-17.9 59.6,42.0"/><polygon fill="#7a3c28" points="41.6,42.6 -9.2,-13.9 26.2,-33.5 47.1,39.5"/><polygon fill="#b98a64" points="43.2,41.4 0.7,-21.6 18.7,-31.0 46.0,39.9"/><polygon fill="#b89270" points="37.1,51.1 -38.1,40.5 -25.3,5.3 39.1,45.6"/><polygon fill="#b08868" points="39.1,60.4 -25.3,100.7 -38.1,65.5 37.1,54.9"/><polygon fill="#54382c" points="37.1,54.2 -38.7,60.8 -38.3,42.0 37.1,51.3"/><polygon fill="#ad8a6a" points="62.9,45.6 127.3,5.3 139.9,38.9 64.8,50.8"/><polygon fill="#b45a32" points="65.0,53.2 141.0,54.6 134.4,86.7 64.0,58.2"/><polygon fill="#c49a70" points="61.9,61.8 120.9,109.6 91.9,133.2 57.4,65.5"/><polygon fill="#a87a4c" points="52.7,66.9 62.0,142.3 40.0,142.3 49.3,66.9"/><polygon fill="#a84424" points="46.4,66.2 21.7,138.1 -14.8,114.4 40.8,62.5"/></g><rect x="-2" y="-2" width="104" height="104" fill="url(#vig)" opacity=".8"/><g filter="url(#b3)"><path fill="#14264f" d="M18,40 L36,33 L50,31 L64,34 L73,45 L74,58 L67,71 L52,76 L38,73 L29,65 L21,52Z"/></g><ellipse cx="49.6" cy="53.4" rx="19.8" ry="19.6" fill="#10295c"/><path fill="#d4141c" d="M10,38 L29,49 L22,55 L15,47Z M19,58 L40,67 L37.4,73.6 L23,66Z M69.8,48.4 L86,49.6 L83.4,55 L71,56Z M70.9,63 L82.4,57 L78,67 L66,72.6Z"/><path fill="#e4eaf8" d="M35,40 C39,34.6 47,34.6 50,37.6 C47,41 45,44 43,48 C45,52 43,58 45,63 C43,67 38.6,65 36,61 C32.6,55 32.4,46 35,40Z"/><path fill="#f4f6ff" d="M47.6,46 L54,42.6 L60.6,46 L58.6,52.6 L52,55 L46.6,51.6Z"/><path fill="#c9c9d2" d="M51.6,58 L62,54.6 L68,62 L65,71 L56,74 L50,68.6Z"/><path fill="#d8aa8c" d="M58,60 L64.6,60 L63.6,67.6 L57,68.6Z"/><path fill="#0d2150" d="M42,48 L48,52 L46,62 L42,58Z M50,40 L56,38 L60,42 L54,43Z M38,44 L42,42 L41,46Z M37,52 L41,53 L40,57Z"/></svg>
<svg x="501.90" y="224.08" width="38.60" height="38.60" viewBox="0 0 100 100" preserveAspectRatio="none" overflow="hidden"><rect width="100" height="100" fill="#0b1654"/><text transform="skewX(-9)" x="59.6" y="58.6" text-anchor="middle" font-size="29.5" font-weight="bold" font-style="italic" textLength="71" lengthAdjust="spacingAndGlyphs" style="fill:#fff;stroke:#fff;stroke-width:1.1">GIANTS</text><rect x="12.2" y="61.2" width="72.8" height="4.8" fill="#f2f2f6"/></svg>
<svg x="501.90" y="291.69" width="38.60" height="38.60" viewBox="0 0 100 100" preserveAspectRatio="none" overflow="hidden"><radialGradient id="u19a" cx="50%" cy="48%" r="72%"><stop offset="0" stop-color="#8f8a7e"/><stop offset=".6" stop-color="#7d786d"/><stop offset="1" stop-color="#47433c"/></radialGradient><linearGradient id="u19b" x1="0" y1="0" x2="0" y2="1"><stop offset="0" stop-color="#d9e1ef"/><stop offset=".55" stop-color="#ccd8ec"/><stop offset=".78" stop-color="#7391c8"/><stop offset="1" stop-color="#2a4c9e"/></linearGradient><rect x="-12" y="-12" width="124" height="124" fill="url(#u19a)"/><g filter="url(#b1)"><path fill="url(#u19b)" stroke="#9fb4d8" stroke-width="2.6" stroke-linejoin="round" d="M25.5,7.4 L73,7.4 Q75,7.6 75,10 L75.6,18 L82.8,28 L81.6,40 L80.4,62 L79,80 L69,87 L49.1,94.6 L29.6,87 L18.7,79.3 L18,62 L16.6,40 L14.3,28 L23,18 L23.4,10 Q23.6,7.6 25.5,7.4Z"/><text x="48" y="19.8" text-anchor="middle" font-size="11" font-weight="bold" textLength="23" lengthAdjust="spacingAndGlyphs" style="fill:#213b94;stroke:#213b94;stroke-width:1">SAT</text><text x="47.4" y="32.6" text-anchor="middle" font-size="15.5" font-weight="bold" textLength="43" lengthAdjust="spacingAndGlyphs" style="fill:#213b94;stroke:#213b94;stroke-width:1.3">GIANTS</text><path fill="#c42038" d="M23,39 L31,35.6 L36,40 L42,38 L44,44 L36,46 L40,52 L32,52 L30,46 L24,45Z"/><path fill="#c42038" d="M33,50 L40,47 L62,78 L55,80Z"/><path fill="#fff" d="M37.6,49 L41.6,47.6 L62,75.6 L59,77.4Z"/><path fill="#b01c34" d="M36,58 L44,62 L52,78 L44,76 L38,68Z"/><path fill="#2b4fa8" d="M43,49 C44,40 55,35.6 64,38 C75,41 80,50 79,60 L78,71 L70,76 L60,78 L55,69 L49,61 C45,57 43,53 43,49Z"/><path fill="#4168c0" d="M50,44 C56,39.6 66,40 72,46 C66,44 58,44 50,48Z"/><path fill="#e8eefa" d="M66,60.6 L75.6,60 L75.6,63.6 L66,64.6Z M67,67 L75,66.4 L74.6,69.4 L67.6,70.4Z"/><path fill="#1f3f90" d="M58,62 L66,60 L66,72 L60,75Z"/></g></svg>
<svg x="501.90" y="359.30" width="38.60" height="38.60" viewBox="0 0 100 100" preserveAspectRatio="none" overflow="hidden"><rect width="100" height="100" fill="#1b8de8"/><path fill="#1976d2" d="M84,9 L100,25 L100,100 L40,100 L28,88 L60,50 Z"/><path fill="#f5f5f8" d="M63.3,8.7 C68,10.6 72,13 75.2,16.3 C77.6,19 78.6,22 78.5,25 C78.6,30 77.6,34 76.3,38 C75.4,42 74,45 72,47.8 C70,51.6 67,54.6 64.3,57.6 L61.1,66.3 C58,69 54.6,71 51.3,72.8 L45.9,82.6 C44,86 42,89 39.3,91.3 C36,92 32.6,91 29.6,89.1 C26,86.4 23,83 20.9,79.3 C18.4,75 16.8,70.6 16.5,66.3 C16.6,61 17.8,56 19.8,51.1 C21.4,46 23.6,41 26.3,35.9 C28.4,31 31,26 33.9,21.7 C37,18 41,15 45.9,13 C49,11.2 52.4,10 55.7,9.2 C58.4,8.6 61,8.4 63.3,8.7Z"/><path fill="#ffffff" d="M55.7,9.2 C45.9,13 37,18 33.9,21.7 C28.4,31 21.4,46 19.8,51.1 C16.6,61 16.4,68 20.9,79.3 C23,83 26,86.4 29.6,89.1 C26,76 28,58 36,42 C41,30 48,18 55.7,9.2Z"/><path fill="#e6e6ec" d="M76.3,38 C74,46 70,52 64.3,57.6 L61.1,66.3 L51.3,72.8 L45.9,82.6 C44,86 42,89 39.3,91.3 C42,82 50,70 58,60 C65,52 71,45 76.3,38Z"/><path fill="#fcc40c" d="M62,9.4 Q66,2 75,3.4 Q84,7 85.6,17 Q85.6,24 78.6,25.4 Q75.6,16 62,9.4Z"/><path fill="#f5ad00" d="M75,3.6 Q83,7 85.6,17 Q85.6,24 78.6,25.4 Q84,15 75,3.6Z"/><circle cx="80.6" cy="7" r="2.4" fill="none" stroke="#6b6a1c" stroke-width="1.5"/></svg>
<svg x="501.90" y="426.91" width="38.60" height="38.60" viewBox="0 0 100 100" preserveAspectRatio="none" overflow="hidden"><g filter="url(#b4)"><rect x="-12" y="-12" width="124" height="124" fill="#332d27"/><rect x="-12" y="-12" width="68" height="76" fill="#63564a"/><rect x="56" y="-12" width="16" height="66" fill="#51473d"/><rect x="72" y="-12" width="40" height="124" fill="#29251f"/><path fill="#2c3432" d="M-6,28 L5,26 L11,64 L-6,68Z"/></g><g filter="url(#b3)"><path fill="#f8d884" d="M-4,4 L8,6 L17,11 L18,17.6 L8,19 L-4,15Z"/><ellipse cx="47" cy="8" rx="4.6" ry="5.6" fill="#f5cc78"/><ellipse cx="26.6" cy="33.6" rx="4" ry="3.8" fill="#ecb464"/><ellipse cx="37.6" cy="24" rx="4" ry="5.6" fill="#d9b98a"/><ellipse cx="22" cy="22" rx="2.4" ry="2.4" fill="#b99566"/><ellipse cx="80" cy="26" rx="2.6" ry="2.6" fill="#b98a50"/><ellipse cx="88" cy="34.4" rx="3.2" ry="2.8" fill="#c79a4a"/><ellipse cx="83.6" cy="49.6" rx="3" ry="3" fill="#c9a04e"/></g><g filter="url(#b2)"><path fill="#211f1b" d="M36,-4 L42.6,-2 L45,17 L55,17 L56.4,-2 L62.6,0 L66,20 L70,34 L69,50 L64,56 L72,62 L76,80 L76,110 L0,110 L2,68 L13,51 L24,42 L36,44 L40,36 L40,20Z"/><path fill="#8f4e2a" d="M48,32.6 L60,32.6 L61,40.6 L50,41.6Z"/><path fill="#4a514b" d="M59,21 L67,26 L67,32 L58,27Z"/><path fill="#555a54" d="M34,59.4 L45,58.6 L46,66.6 L35,67.4Z M42,75 L59,74 L59.6,82.6 L43.6,84Z"/><path fill="#5e2e16" d="M3,66 L14,50 L21,46 L11,70 L7,92 L1,92Z"/></g><g filter="url(#b3)"><path fill="#f09a30" d="M73,62 C78,55 88,57 92,62 L94,94 L72,96Z"/><path fill="#ffdc90" d="M77.6,63 C82,59 87.6,61 88.6,66 L90,92 L76.6,94Z"/><path fill="#f0a040" d="M95,79 L106,77 L106,96 L94,96Z"/><path fill="#f0b860" d="M19.6,61 L24,64 L17.6,90 L10,90Z"/></g></svg>
<svg x="501.90" y="494.52" width="38.60" height="38.60" viewBox="0 0 100 100" preserveAspectRatio="none" overflow="hidden"><rect width="100" height="100" fill="#000"/><path fill="#e0162e" d="M2.4,39.4 L30,31.6 L48.8,28.4 L51,46.6 L43,46.6 L24,43.8Z"/><path fill="none" stroke="#f7f7f9" stroke-width="1.9" d="M9,40.2 L50,34.6 M19,42.6 L51,40.4"/><path fill="none" stroke="#eef0f4" stroke-width="1.7" d="M25,44.6 L46,47.6"/><path fill="#0c2450" d="M48.4,28.6 Q72,26 97,33.7 L93,46 L87,58 L83,71 L79.6,72.8 Q70,60 57,52.6 Q51,49 45,47.2 L49.4,45 Z"/><path fill="none" stroke="#b4bcc8" stroke-width="1.2" stroke-linejoin="round" d="M48.4,28.6 Q72,26 97,33.7 L93,46 L87,58 L83,71 L79.6,72.8 Q70,60 57,52.6 Q51,49 45,47.2"/><path fill="#e0162e" d="M30,31.6 L48.8,28.4 L49.6,33 L30,34.6Z"/><path fill="#b4bdcc" d="M72.6,50 L86.6,49 L87,57 L83.6,69.6 L80,72 Q77,62 71.6,55Z"/><path fill="#0c2450" d="M76,53 l4.6,.6 l-.8,4.4 l3,2.4 l-2.2,4.4 l-3,-3.6z"/><path fill="#dfe3ea" d="M74,51 l4,-.4 l-1,3z M82,60 l3,-1 l-1.4,5z"/><path fill="#fff" d="M82.8,37.8 L83.9,40.7 L87.0,40.8 L84.5,42.8 L85.4,45.8 L82.8,44.0 L80.2,45.8 L81.1,42.8 L78.6,40.8 L81.7,40.7Z"/><path fill="#e8eaee" d="M49.6,40 l13,-.6 l-9,2.8z M51,44.6 l11,1 l-7,1.6z"/></svg>
<svg x="501.90" y="562.13" width="38.60" height="38.60" viewBox="0 0 100 100" preserveAspectRatio="none" overflow="hidden"><rect x="-12" y="-12" width="124" height="124" fill="#252a34"/><g filter="url(#b1)"><path fill="#5a2c1c" d="M27,12 Q49,-8 72,12 L68,16 Q49,0 31,16Z"/><ellipse cx="49.1" cy="27" rx="21" ry="19" fill="#dd5f28"/><ellipse cx="42" cy="24" rx="11" ry="12" fill="#ea7436"/><ellipse cx="60" cy="34" rx="7" ry="8" fill="#ee8a52"/><path fill="#de5a24" d="M11,15 L17,12 L23,16 L24,27 L19,33 L12,30 L9.6,22Z M14,28 L22,25 L24.6,33 L18,37 L12,34Z M9.6,39 L17,37.6 L18.6,44 L12,46.4Z"/><path fill="#de5a24" d="M73,16 L80,13 L87,17 L87,26 L82,30 L75,28 L72.6,22Z M78,36 L86,33.6 L89.6,41 L86,46 L79,45.6Z"/><path fill="#f08a4c" d="M13,18 L16,16 L17,22 L14,23Z M76,19 L79,17 L80,23 L77,24Z M81,38 L84,37 L85,42 L82,43Z"/><path fill="#23304a" d="M15,14 L18,22 L21,15 L20,26 L15,26Z M78,15 L81,23 L84,16 L83,27 L78,26Z M18,28 L21,33 L17,35Z M80,36 L84,40 L80,44Z M11,33 L24,31 L24,34 L11,36Z"/><path fill="#8f9698" d="M3,28 L12,26 L13,30 L4,31.6Z M88,27.6 L97,28 L97,30 L88,31Z M10,7 L20,6 L20,8.6 L10,9.4Z M76,7 L86,6.4 L86,9 L76,9.6Z"/><path fill="#2f6ba3" d="M23,41 L74,41 L74,47 L23,47Z M23,34 L28.6,34 L28.6,45 L23,45Z M71,34 L76,34 L76,45 L71,45Z"/><path fill="#1f4e80" d="M27,44.6 L72,44.6 L72,47.4 L27,47.4Z"/><path fill="#8ea0b2" d="M33,20.6 L66.5,20.6 L66.5,26 L33,26Z" opacity=".55"/><path fill="#1c2a44" d="M46.6,7 L51.6,7 L52.4,22 L56,41 L42,41 L45.6,22Z"/><path fill="#466a92" d="M33.6,22 L66,22 L66,24.8 L33.6,24.8Z"/><path fill="#1c2a44" d="M38,31 L60,31 L62,41 L36,41Z" opacity=".75"/><path fill="#c84a22" d="M26,49.4 L68,49.4 L68,51 L26,51Z"/><path fill="#dc541e" d="M12,72 L22,70 L28,76 L25,85 L16,87 L9,82Z M72,71 L81,71 L89,78 L85,87 L76,85 L72,78Z M51,88 L63,87 L61,93 L52,94Z"/><path fill="#23304a" d="M15,76 L22,74 L20,80Z M77,75 L84,78 L79,82Z"/><path fill="#8f9698" d="M2,82 L12,79 L12,82.6 L3,85Z M88,79.6 L97,82 L96,85 L88,82.6Z M4,66 L10,64 L10,67 L4,69Z M90,64 L96,66 L96,69 L90,67Z"/><text x="48.5" y="66.6" text-anchor="middle" font-size="25" font-weight="bold" textLength="76" lengthAdjust="spacingAndGlyphs" style="fill:#d6d2b4;stroke:#1a1e28;stroke-width:.5;paint-order:stroke">HOLAMBRA</text><text x="50.2" y="85.6" text-anchor="middle" font-size="21" font-weight="bold" textLength="42" lengthAdjust="spacingAndGlyphs" style="fill:#d6d2b4;stroke:#1a1e28;stroke-width:.5;paint-order:stroke">DUTCH</text><ellipse cx="49.6" cy="67.8" rx="9.2" ry="4.4" fill="#b9502a"/><path fill="#e9d9c0" d="M44.6,67.2 L54.6,67.2 L54.6,68.4 L44.6,68.4Z"/></g></svg>
<svg x="501.90" y="629.74" width="38.60" height="38.60" viewBox="0 0 100 100" preserveAspectRatio="none" overflow="hidden"><rect width="100" height="100" fill="#a9a8a6"/><path fill="#000" stroke="#fff" stroke-width="2.6" stroke-linejoin="round" style="paint-order:stroke" d="M13.3,18.5 L27.4,22.8 L49.1,20.1 L62.2,23.9 L64.3,25 L62.2,30.4 L66.5,34.8 L79.6,33.7 L87.2,29.3 L92.6,33.7 L92.6,40.2 L83.9,39.1 L78.5,42.4 L73,44.6 L67.6,51.1 L66.5,62 L72,66.3 L70.9,75 L64.3,83.7 L51.3,89.1 L40.4,90.2 L24.1,79.3 L14.3,64.1 L10,48.9 L11.1,32.6 Z"/><path fill="#fff" d="M18.7,16.8 L54.6,4.3 L63.3,13 L53.5,18.5 L35,22.3Z"/><path fill="#000" d="M30,16.4 L52,9.4 L54,12 L34,18.4Z M40,19.4 L58,14.6 L59,17 L46,20.4Z"/><path fill="none" stroke="#fff" stroke-width="1.6" d="M53,6 L57.6,17"/><path fill="#000" d="M62.2,8.7 L73,6.5 L82.8,13 L73,13.4 L66.5,14.4 L58,11Z"/><path fill="#fff" d="M64.3,25 L73,21.8 L90,20.6 L95.6,24 L95.8,33.4 L89.6,35.4 L88.6,28 L80,33.6 L66.5,34.8 L62.2,30.4Z"/><path fill="none" stroke="#fff" stroke-width="1.5" d="M55,16.6 L84,17.4"/><path fill="none" stroke="#000" stroke-width="1.6" d="M58,19.6 L88,19.6"/><circle cx="62.2" cy="56" r="16.3" fill="none" stroke="#fff" stroke-width="1.5"/><path fill="#000" d="M67.6,38 L80,44 L80,70 L72,80 L67,70 Z"/><path fill="#a9a8a6" d="M73,44.8 L84,42 L92,41 L86,60 L76,70 L72.6,66 L67.2,62 L68,51.4Z"/><path fill="none" stroke="#fff" stroke-width="1.8" d="M26.3,47.8 L45.9,45.7"/><path fill="none" stroke="#fff" stroke-width="2" d="M22,51 C25,64 33,74 42.6,79 C50,83 57,85 64.3,84.8"/><path fill="#fff" d="M50,47.6 L56,58 L58,51 L61,58 L66.4,47.6 L63,50 L58,46 L54,50Z"/><path fill="none" stroke="#fff" stroke-width="1.5" d="M13.3,32.6 C7,44 7,60 14.3,70.7 C19,79 24,84 29.6,85.9 L40.4,92.4"/><path fill="#e9e9e9" d="M80,44.4 L87,44 L82.6,57.6Z"/><path fill="#000" d="M60,62 L67,62 L72,66.3 L70.9,75 L64,80 L58,72Z"/></svg>
<svg x="501.90" y="697.35" width="38.60" height="38.60" viewBox="0 0 100 100" preserveAspectRatio="none" overflow="hidden"><rect width="100" height="100" fill="#000"/><circle cx="49.6" cy="49.6" r="41.8" fill="#fff"/><path fill="#000" d="M50.2,12.2 Q53.9,24.5 68.8,27.6 Q53.9,30.7 50.2,43.0 Q46.5,30.7 31.6,27.6 Q46.5,24.5 50.2,12.2Z M70.0,33.6 Q73.4,46.4 86.8,49.6 Q73.4,52.8 70.0,65.6 Q66.6,52.8 53.2,49.6 Q66.6,46.4 70.0,33.6Z M50.4,57.2 Q54.0,69.2 68.4,72.2 Q54.0,75.2 50.4,87.2 Q46.8,75.2 32.4,72.2 Q46.8,69.2 50.4,57.2Z"/><text x="13" y="53.4" font-size="11.5" font-weight="bold" textLength="33" lengthAdjust="spacingAndGlyphs" style="fill:#222">Steelers</text></svg>
<svg x="501.90" y="764.96" width="38.60" height="38.60" viewBox="0 0 100 100" preserveAspectRatio="none" overflow="hidden"><rect width="100" height="100" fill="#fff"/><rect x="0" width="21" height="100" fill="#a28a4a"/><rect x="20.6" width="15.4" height="100" fill="#990000"/><rect x="63.4" width="14.6" height="100" fill="#990000"/><rect x="77.6" width="22.4" height="100" fill="#a28a4a"/></svg>
<svg x="501.90" y="832.57" width="38.60" height="38.60" viewBox="0 0 100 100" preserveAspectRatio="none" overflow="hidden"><rect width="100" height="100" fill="#fff"/><rect x="0" width="21" height="100" fill="#fda912"/><rect x="20.6" width="15.4" height="100" fill="#1c2b26"/><rect x="63.4" width="14.6" height="100" fill="#1c2b26"/><rect x="77.6" width="22.4" height="100" fill="#fda912"/></svg>
<svg x="501.90" y="900.18" width="38.60" height="38.60" viewBox="0 0 100 100" preserveAspectRatio="none" overflow="hidden"><radialGradient id="u28a" cx="50%" cy="52%" r="70%"><stop offset="0" stop-color="#2390f2"/><stop offset=".5" stop-color="#1868de"/><stop offset="1" stop-color="#07209a"/></radialGradient><rect x="-12" y="-12" width="124" height="124" fill="url(#u28a)"/><g filter="url(#b1)"><path fill="#ff861c" d="M61,1 C56,8 60,12 57,17 C63,14 67,8 72,7 C69,13 73,17 70,23 C76,20 80,14 82,16 C80,24 84,28 88,27 C86,34 92,40 93,46 C90,48 92,56 88,62 L80,70 C84,76 86,80 84,82 C78,80 74,76 70,74 L60,86 C56,92 52,96 49,98 C46,92 40,90 36,86 L30,78 C26,84 20,86 17,84 C20,78 18,72 21,68 L10,60 C6,54 8,46 6,40 C10,44 13,42 14,36 C16,30 13,26 16,23 C20,28 24,26 28,22 C30,18 34,22 36,18 C38,12 46,10 50,6 C54,4 58,2 61,1Z"/><path fill="#ffc62c" d="M38,19 C46,11 56,12 63,18 C70,16 74,23 72,29 C78,34 72,45 65,47 L35,47 C26,43 25,33 30,28 C30,21 34,19 38,19Z"/><path fill="#ffb02a" d="M40,88 C44,84 54,84 58,88 C56,93 52,95.6 49,97 C46,94 42,92 40,88Z"/><path fill="#4a1020" d="M22,62 C30,56 70,56 80,62 C78,80 62,92 50,92 C38,92 24,80 22,62Z"/><path fill="#1c064e" d="M24,60 C34,55 68,55 78,60 C76,77 62,88.6 50,88.6 C38,88.6 26,77 24,60Z"/><path fill="#5a22c8" d="M30,42 C40,39 62,39 74,42 L76,52 L28,52Z"/><path fill="#f1ecff" d="M28.6,43 L33,41.6 L33,49 L28,50Z M69,41.6 L74.6,43 L75,50 L69,49Z"/><path fill="#7a3cf0" d="M38,43 L64,43 L64,46 L38,46Z"/><circle cx="25.8" cy="33.7" r="8.6" fill="#d01850"/><circle cx="27.6" cy="31.4" r="2.6" fill="#8fe0f0"/><circle cx="74.1" cy="32.6" r="9.2" fill="#3cc828"/><circle cx="72" cy="31" r="2.8" fill="#c9f4ff"/><path fill="#1b8a1e" d="M70,38 L80,36 L80,41 L72,42Z"/><circle cx="49.1" cy="28.3" r="12" fill="#2a8fd6"/><path fill="#6fd6f2" d="M40,24 C43,17.6 53,16.6 58,21 C52,20.6 46,22 42,28Z"/><path fill="#14488f" d="M40,32 C44,38 54,40 59,36 L58,28 C54,34 46,34 40,32Z"/><path fill="#2b2f3f" d="M55.6,27 L61,27 L61,35.6 L56,36.6Z"/><path fill="none" stroke="#e8e4ff" stroke-width="1.6" stroke-dasharray="2.2 1.4" d="M33,65.6 L67,65.6"/><path fill="none" stroke="#cfc6f4" stroke-width="1.6" d="M29,66 L30,75 M72,66 L71,75"/><path fill="#2a55c0" d="M46.4,72.4 L54,72.4 L54,77 L46.4,77Z"/><path fill="#e23a3a" d="M46.4,77 L54,77 L53,81 L50.2,82.6 L47.4,81Z"/><path fill="#fff" d="M48,76 L52.6,76 L52.6,78 L48,78Z"/><path fill="#14551b" d="M10,49 C30,45 70,45 90,48 L94,67 L87,64 L82,68.6 L18,68.6 L13,65 L6,71Z"/><path fill="#62f22c" d="M9,57 L17,51 L16,62 L7,70Z M84,51 L90,53 L93.6,67 L86,61Z"/><text x="50" y="66" text-anchor="middle" font-size="25" font-weight="bold" font-style="italic" textLength="71" lengthAdjust="spacingAndGlyphs" style="fill:#5ef02a;stroke:#124d18;stroke-width:1.7;paint-order:stroke">JETSONS</text></g></svg>
<svg x="975.95" y="21.25" width="38.60" height="38.60" viewBox="0 0 100 100" preserveAspectRatio="none" overflow="hidden"><g filter="url(#b3)"><rect x="-12" y="-12" width="124" height="124" fill="#17110e"/><polygon fill="#93452a" points="54.4,39.4 72.8,-34.3 115.7,-9.5 61.1,43.3"/><polygon fill="#c58a5e" points="56.2,40.0 84.7,-30.4 106.4,-17.9 59.6,42.0"/><polygon fill="#7a3c28" points="41.6,42.6 -9.2,-13.9 26.2,-33.5 47.1,39.5"/><polygon fill="#b98a64" points="43.2,41.4 0.7,-21.6 18.7,-31.0 46.0,39.9"/><polygon fill="#b89270" points="37.1,51.1 -38.1,40.5 -25.3,5.3 39.1,45.6"/><polygon fill="#b08868" points="39.1,60.4 -25.3,100.7 -38.1,65.5 37.1,54.9"/><polygon fill="#54382c" points="37.1,54.2 -38.7,60.8 -38.3,42.0 37.1,51.3"/><polygon fill="#ad8a6a" points="62.9,45.6 127.3,5.3 139.9,38.9 64.8,50.8"/><polygon fill="#b45a32" points="65.0,53.2 141.0,54.6 134.4,86.7 64.0,58.2"/><polygon fill="#c49a70" points="61.9,61.8 120.9,109.6 91.9,133.2 57.4,65.5"/><polygon fill="#a87a4c" points="52.7,66.9 62.0,142.3 40.0,142.3 49.3,66.9"/><polygon fill="#a84424" points="46.4,66.2 21.7,138.1 -14.8,114.4 40.8,62.5"/></g><g opacity=".5"><rect x="-12" y="-12" width="124" height="124" fill="#17110e"/><polygon fill="#93452a" points="54.4,39.4 72.8,-34.3 115.7,-9.5 61.1,43.3"/><polygon fill="#c58a5e" points="56.2,40.0 84.7,-30.4 106.4,-17.9 59.6,42.0"/><polygon fill="#7a3c28" points="41.6,42.6 -9.2,-13.9 26.2,-33.5 47.1,39.5"/><polygon fill="#b98a64" points="43.2,41.4 0.7,-21.6 18.7,-31.0 46.0,39.9"/><polygon fill="#b89270" points="37.1,51.1 -38.1,40.5 -25.3,5.3 39.1,45.6"/><polygon fill="#b08868" points="39.1,60.4 -25.3,100.7 -38.1,65.5 37.1,54.9"/><polygon fill="#54382c" points="37.1,54.2 -38.7,60.8 -38.3,42.0 37.1,51.3"/><polygon fill="#ad8a6a" points="62.9,45.6 127.3,5.3 139.9,38.9 64.8,50.8"/><polygon fill="#b45a32" points="65.0,53.2 141.0,54.6 134.4,86.7 64.0,58.2"/><polygon fill="#c49a70" points="61.9,61.8 120.9,109.6 91.9,133.2 57.4,65.5"/><polygon fill="#a87a4c" points="52.7,66.9 62.0,142.3 40.0,142.3 49.3,66.9"/><polygon fill="#a84424" points="46.4,66.2 21.7,138.1 -14.8,114.4 40.8,62.5"/></g><rect x="-2" y="-2" width="104" height="104" fill="url(#vig)" opacity=".8"/><g filter="url(#b3)"><path fill="#14264f" d="M18,40 L36,33 L50,31 L64,34 L73,45 L74,58 L67,71 L52,76 L38,73 L29,65 L21,52Z"/></g><ellipse cx="49.6" cy="53.4" rx="19.8" ry="19.6" fill="#10295c"/><path fill="#d4141c" d="M10,38 L29,49 L22,55 L15,47Z M19,58 L40,67 L37.4,73.6 L23,66Z M69.8,48.4 L86,49.6 L83.4,55 L71,56Z M70.9,63 L82.4,57 L78,67 L66,72.6Z"/><path fill="#e4eaf8" d="M35,40 C39,34.6 47,34.6 50,37.6 C47,41 45,44 43,48 C45,52 43,58 45,63 C43,67 38.6,65 36,61 C32.6,55 32.4,46 35,40Z"/><path fill="#f4f6ff" d="M47.6,46 L54,42.6 L60.6,46 L58.6,52.6 L52,55 L46.6,51.6Z"/><path fill="#c9c9d2" d="M51.6,58 L62,54.6 L68,62 L65,71 L56,74 L50,68.6Z"/><path fill="#d8aa8c" d="M58,60 L64.6,60 L63.6,67.6 L57,68.6Z"/><path fill="#0d2150" d="M42,48 L48,52 L46,62 L42,58Z M50,40 L56,38 L60,42 L54,43Z M38,44 L42,42 L41,46Z M37,52 L41,53 L40,57Z"/></svg>
<svg x="975.95" y="88.86" width="38.60" height="38.60" viewBox="0 0 100 100" preserveAspectRatio="none" overflow="hidden"><rect width="100" height="100" fill="#063c43"/><path fill="none" stroke="#fff" stroke-width="2.7" stroke-linejoin="round" d="M63.8,5.4 L51.3,16.3 L38.3,27.2 L24.7,34.2 L28.6,38.4 L22,45.7 C18,50 15.4,54 14.9,57.6 C14.6,62 16,65 17.6,67.4 C20,71 22.4,73.4 25.2,75 C29,77.6 32.6,78.4 36.1,78.3 C40,78 43,77.4 45.9,76.1 L51.3,72.8 L54.6,82.6 L57.8,87 L66.5,79.3 L75.2,67.4 L80.7,58.7 C83,56.4 85,55.4 87.2,54.9 L96.4,53.3"/><path fill="#fff" d="M66.5,8.2 C70,9 74,10.4 77.4,12 C81,15 84.4,18.4 87.2,21.7 C90,25.4 92,29 93.7,32.6 C95,36 95.6,39.4 95.9,42.4 L95.3,46.7 L83.9,47.8 L77.4,48.9 L73,51.1 L66.5,47.8 L57.8,44.6 L53.5,40.2 L48,38.6 L39.3,37.5 L40.4,34.2 L51.3,25 L61.1,14.1Z"/><path fill="#fff" d="M42.6,40.2 L51.3,41.3 L57.8,44.6 L66.5,47.8 L73,51.1 C71,52.4 69,52.4 67.6,52.2 C64,51 61,50.2 57.8,50 C53,49.6 49,50 45.9,51.1 C42.6,52.2 40,53.4 38.3,55.4 C36.6,57.4 36,59.6 36.1,62 C36.6,64.4 38,66.4 40.4,67.4 L44.6,69.6 L43.7,72.8 C40,74.4 37,74.8 33.9,74.5 C30.4,74 27.6,72.6 25.2,70.7 C23.4,68 22.4,65 22.5,62 C22.8,58.6 23.6,55.8 25.2,53.3 C27.4,49.6 30,46.8 32.8,44.6 C36,42.4 39.4,41 42.6,40.2Z"/><path fill="#fff" d="M45,58.4 C48,57.4 51,58.6 53.5,61 L51.5,70.5 L47.6,68 C45,65 44.2,61.6 45,58.4Z"/><path fill="none" stroke="#fff" stroke-width="2.2" d="M57.6,61.4 L60.2,76.4 L66.8,59.6"/><path fill="none" stroke="#fff" stroke-width="2" d="M73,52.4 C76,51.6 79,50.8 83,50.6 L95.3,47"/><path fill="none" stroke="#063c43" stroke-width="2" d="M78,13.4 C72,16 66,20 62.4,25 C60,29 58.6,33 57.6,38.6"/><path fill="#063c43" d="M62,27 L67,23.6 L66,28 L70,30 L66.6,33 L69.6,37 L64,39.6 L60,37 C59.6,33 60.4,30 62,27Z"/><path fill="none" stroke="#063c43" stroke-width="1.5" d="M40.4,35.2 C46,36.2 52,37.8 56.6,41.4 M82,47 L92,44.6"/><ellipse cx="44.2" cy="45.1" rx="2.2" ry="1.2" fill="#4f7a80"/></svg>
<svg x="975.95" y="156.47" width="38.60" height="38.60" viewBox="0 0 100 100" preserveAspectRatio="none" overflow="hidden"><rect width="100" height="100" fill="#1b8de8"/><path fill="#1976d2" d="M84,9 L100,25 L100,100 L40,100 L28,88 L60,50 Z"/><path fill="#f5f5f8" d="M63.3,8.7 C68,10.6 72,13 75.2,16.3 C77.6,19 78.6,22 78.5,25 C78.6,30 77.6,34 76.3,38 C75.4,42 74,45 72,47.8 C70,51.6 67,54.6 64.3,57.6 L61.1,66.3 C58,69 54.6,71 51.3,72.8 L45.9,82.6 C44,86 42,89 39.3,91.3 C36,92 32.6,91 29.6,89.1 C26,86.4 23,83 20.9,79.3 C18.4,75 16.8,70.6 16.5,66.3 C16.6,61 17.8,56 19.8,51.1 C21.4,46 23.6,41 26.3,35.9 C28.4,31 31,26 33.9,21.7 C37,18 41,15 45.9,13 C49,11.2 52.4,10 55.7,9.2 C58.4,8.6 61,8.4 63.3,8.7Z"/><path fill="#ffffff" d="M55.7,9.2 C45.9,13 37,18 33.9,21.7 C28.4,31 21.4,46 19.8,51.1 C16.6,61 16.4,68 20.9,79.3 C23,83 26,86.4 29.6,89.1 C26,76 28,58 36,42 C41,30 48,18 55.7,9.2Z"/><path fill="#e6e6ec" d="M76.3,38 C74,46 70,52 64.3,57.6 L61.1,66.3 L51.3,72.8 L45.9,82.6 C44,86 42,89 39.3,91.3 C42,82 50,70 58,60 C65,52 71,45 76.3,38Z"/><path fill="#fcc40c" d="M62,9.4 Q66,2 75,3.4 Q84,7 85.6,17 Q85.6,24 78.6,25.4 Q75.6,16 62,9.4Z"/><path fill="#f5ad00" d="M75,3.6 Q83,7 85.6,17 Q85.6,24 78.6,25.4 Q84,15 75,3.6Z"/><circle cx="80.6" cy="7" r="2.4" fill="none" stroke="#6b6a1c" stroke-width="1.5"/></svg>
<svg x="975.95" y="224.08" width="38.60" height="38.60" viewBox="0 0 100 100" preserveAspectRatio="none" overflow="hidden"><rect width="100" height="100" fill="#0b1654"/><text transform="skewX(-9)" x="59.6" y="58.6" text-anchor="middle" font-size="29.5" font-weight="bold" font-style="italic" textLength="71" lengthAdjust="spacingAndGlyphs" style="fill:#fff;stroke:#fff;stroke-width:1.1">GIANTS</text><rect x="12.2" y="61.2" width="72.8" height="4.8" fill="#f2f2f6"/></svg>
<svg x="975.95" y="291.69" width="38.60" height="38.60" viewBox="0 0 100 100" preserveAspectRatio="none" overflow="hidden"><rect width="100" height="100" fill="#0b1654"/><g style="fill:#b8123a;stroke:#b8123a;stroke-width:3.4;stroke-linejoin:round"><text x="50" y="60.4" text-anchor="middle" font-size="62" font-weight="bold" textLength="62" lengthAdjust="spacingAndGlyphs" style="fill:#b8123a;stroke:#b8123a;stroke-width:3.6">ny</text><path d="M23.5,66.2 H72.6 V30 H81.6 V74 H23.5Z M19,27.4 h12 v6 h-12z M48.6,27.4 h12 v6 h-12z M70,27.4 h12 v6 h-12z M19,54 h14 v5.6 h-14z M36,54 h13 v5.6 h-13z"/></g><g style="fill:#fff;stroke:#fff;stroke-width:1;stroke-linejoin:round"><text x="50" y="60.4" text-anchor="middle" font-size="62" font-weight="bold" textLength="62" lengthAdjust="spacingAndGlyphs" style="fill:#fff;stroke:#fff;stroke-width:1.5">ny</text><path d="M23.5,66.2 H72.6 V30 H81.6 V74 H23.5Z M19,27.4 h12 v6 h-12z M48.6,27.4 h12 v6 h-12z M70,27.4 h12 v6 h-12z M19,54 h14 v5.6 h-14z M36,54 h13 v5.6 h-13z"/></g></svg>
<svg x="975.95" y="359.30" width="38.60" height="38.60" viewBox="0 0 100 100" preserveAspectRatio="none" overflow="hidden"><rect width="100" height="100" fill="#a9a8a6"/><path fill="#000" stroke="#fff" stroke-width="2.6" stroke-linejoin="round" style="paint-order:stroke" d="M13.3,18.5 L27.4,22.8 L49.1,20.1 L62.2,23.9 L64.3,25 L62.2,30.4 L66.5,34.8 L79.6,33.7 L87.2,29.3 L92.6,33.7 L92.6,40.2 L83.9,39.1 L78.5,42.4 L73,44.6 L67.6,51.1 L66.5,62 L72,66.3 L70.9,75 L64.3,83.7 L51.3,89.1 L40.4,90.2 L24.1,79.3 L14.3,64.1 L10,48.9 L11.1,32.6 Z"/><path fill="#fff" d="M18.7,16.8 L54.6,4.3 L63.3,13 L53.5,18.5 L35,22.3Z"/><path fill="#000" d="M30,16.4 L52,9.4 L54,12 L34,18.4Z M40,19.4 L58,14.6 L59,17 L46,20.4Z"/><path fill="none" stroke="#fff" stroke-width="1.6" d="M53,6 L57.6,17"/><path fill="#000" d="M62.2,8.7 L73,6.5 L82.8,13 L73,13.4 L66.5,14.4 L58,11Z"/><path fill="#fff" d="M64.3,25 L73,21.8 L90,20.6 L95.6,24 L95.8,33.4 L89.6,35.4 L88.6,28 L80,33.6 L66.5,34.8 L62.2,30.4Z"/><path fill="none" stroke="#fff" stroke-width="1.5" d="M55,16.6 L84,17.4"/><path fill="none" stroke="#000" stroke-width="1.6" d="M58,19.6 L88,19.6"/><circle cx="62.2" cy="56" r="16.3" fill="none" stroke="#fff" stroke-width="1.5"/><path fill="#000" d="M67.6,38 L80,44 L80,70 L72,80 L67,70 Z"/><path fill="#a9a8a6" d="M73,44.8 L84,42 L92,41 L86,60 L76,70 L72.6,66 L67.2,62 L68,51.4Z"/><path fill="none" stroke="#fff" stroke-width="1.8" d="M26.3,47.8 L45.9,45.7"/><path fill="none" stroke="#fff" stroke-width="2" d="M22,51 C25,64 33,74 42.6,79 C50,83 57,85 64.3,84.8"/><path fill="#fff" d="M50,47.6 L56,58 L58,51 L61,58 L66.4,47.6 L63,50 L58,46 L54,50Z"/><path fill="none" stroke="#fff" stroke-width="1.5" d="M13.3,32.6 C7,44 7,60 14.3,70.7 C19,79 24,84 29.6,85.9 L40.4,92.4"/><path fill="#e9e9e9" d="M80,44.4 L87,44 L82.6,57.6Z"/><path fill="#000" d="M60,62 L67,62 L72,66.3 L70.9,75 L64,80 L58,72Z"/></svg>
<svg x="975.95" y="426.91" width="38.60" height="38.60" viewBox="0 0 100 100" preserveAspectRatio="none" overflow="hidden"><g filter="url(#b4)"><rect x="-12" y="-12" width="124" height="124" fill="#332d27"/><rect x="-12" y="-12" width="68" height="76" fill="#63564a"/><rect x="56" y="-12" width="16" height="66" fill="#51473d"/><rect x="72" y="-12" width="40" height="124" fill="#29251f"/><path fill="#2c3432" d="M-6,28 L5,26 L11,64 L-6,68Z"/></g><g filter="url(#b3)"><path fill="#f8d884" d="M-4,4 L8,6 L17,11 L18,17.6 L8,19 L-4,15Z"/><ellipse cx="47" cy="8" rx="4.6" ry="5.6" fill="#f5cc78"/><ellipse cx="26.6" cy="33.6" rx="4" ry="3.8" fill="#ecb464"/><ellipse cx="37.6" cy="24" rx="4" ry="5.6" fill="#d9b98a"/><ellipse cx="22" cy="22" rx="2.4" ry="2.4" fill="#b99566"/><ellipse cx="80" cy="26" rx="2.6" ry="2.6" fill="#b98a50"/><ellipse cx="88" cy="34.4" rx="3.2" ry="2.8" fill="#c79a4a"/><ellipse cx="83.6" cy="49.6" rx="3" ry="3" fill="#c9a04e"/></g><g filter="url(#b2)"><path fill="#211f1b" d="M36,-4 L42.6,-2 L45,17 L55,17 L56.4,-2 L62.6,0 L66,20 L70,34 L69,50 L64,56 L72,62 L76,80 L76,110 L0,110 L2,68 L13,51 L24,42 L36,44 L40,36 L40,20Z"/><path fill="#8f4e2a" d="M48,32.6 L60,32.6 L61,40.6 L50,41.6Z"/><path fill="#4a514b" d="M59,21 L67,26 L67,32 L58,27Z"/><path fill="#555a54" d="M34,59.4 L45,58.6 L46,66.6 L35,67.4Z M42,75 L59,74 L59.6,82.6 L43.6,84Z"/><path fill="#5e2e16" d="M3,66 L14,50 L21,46 L11,70 L7,92 L1,92Z"/></g><g filter="url(#b3)"><path fill="#f09a30" d="M73,62 C78,55 88,57 92,62 L94,94 L72,96Z"/><path fill="#ffdc90" d="M77.6,63 C82,59 87.6,61 88.6,66 L90,92 L76.6,94Z"/><path fill="#f0a040" d="M95,79 L106,77 L106,96 L94,96Z"/><path fill="#f0b860" d="M19.6,61 L24,64 L17.6,90 L10,90Z"/></g></svg>
<svg x="975.95" y="494.52" width="38.60" height="38.60" viewBox="0 0 100 100" preserveAspectRatio="none" overflow="hidden"><radialGradient id="u36a" cx="50%" cy="48%" r="72%"><stop offset="0" stop-color="#8f8a7e"/><stop offset=".6" stop-color="#7d786d"/><stop offset="1" stop-color="#47433c"/></radialGradient><linearGradient id="u36b" x1="0" y1="0" x2="0" y2="1"><stop offset="0" stop-color="#d9e1ef"/><stop offset=".55" stop-color="#ccd8ec"/><stop offset=".78" stop-color="#7391c8"/><stop offset="1" stop-color="#2a4c9e"/></linearGradient><rect x="-12" y="-12" width="124" height="124" fill="url(#u36a)"/><g filter="url(#b1)"><path fill="url(#u36b)" stroke="#9fb4d8" stroke-width="2.6" stroke-linejoin="round" d="M25.5,7.4 L73,7.4 Q75,7.6 75,10 L75.6,18 L82.8,28 L81.6,40 L80.4,62 L79,80 L69,87 L49.1,94.6 L29.6,87 L18.7,79.3 L18,62 L16.6,40 L14.3,28 L23,18 L23.4,10 Q23.6,7.6 25.5,7.4Z"/><text x="48" y="19.8" text-anchor="middle" font-size="11" font-weight="bold" textLength="23" lengthAdjust="spacingAndGlyphs" style="fill:#213b94;stroke:#213b94;stroke-width:1">SAT</text><text x="47.4" y="32.6" text-anchor="middle" font-size="15.5" font-weight="bold" textLength="43" lengthAdjust="spacingAndGlyphs" style="fill:#213b94;stroke:#213b94;stroke-width:1.3">GIANTS</text><path fill="#c42038" d="M23,39 L31,35.6 L36,40 L42,38 L44,44 L36,46 L40,52 L32,52 L30,46 L24,45Z"/><path fill="#c42038" d="M33,50 L40,47 L62,78 L55,80Z"/><path fill="#fff" d="M37.6,49 L41.6,47.6 L62,75.6 L59,77.4Z"/><path fill="#b01c34" d="M36,58 L44,62 L52,78 L44,76 L38,68Z"/><path fill="#2b4fa8" d="M43,49 C44,40 55,35.6 64,38 C75,41 80,50 79,60 L78,71 L70,76 L60,78 L55,69 L49,61 C45,57 43,53 43,49Z"/><path fill="#4168c0" d="M50,44 C56,39.6 66,40 72,46 C66,44 58,44 50,48Z"/><path fill="#e8eefa" d="M66,60.6 L75.6,60 L75.6,63.6 L66,64.6Z M67,67 L75,66.4 L74.6,69.4 L67.6,70.4Z"/><path fill="#1f3f90" d="M58,62 L66,60 L66,72 L60,75Z"/></g></svg>
<svg x="975.95" y="562.13" width="38.60" height="38.60" viewBox="0 0 100 100" preserveAspectRatio="none" overflow="hidden"><rect width="100" height="100" fill="#000"/><path fill="#e0162e" d="M2.4,39.4 L30,31.6 L48.8,28.4 L51,46.6 L43,46.6 L24,43.8Z"/><path fill="none" stroke="#f7f7f9" stroke-width="1.9" d="M9,40.2 L50,34.6 M19,42.6 L51,40.4"/><path fill="none" stroke="#eef0f4" stroke-width="1.7" d="M25,44.6 L46,47.6"/><path fill="#0c2450" d="M48.4,28.6 Q72,26 97,33.7 L93,46 L87,58 L83,71 L79.6,72.8 Q70,60 57,52.6 Q51,49 45,47.2 L49.4,45 Z"/><path fill="none" stroke="#b4bcc8" stroke-width="1.2" stroke-linejoin="round" d="M48.4,28.6 Q72,26 97,33.7 L93,46 L87,58 L83,71 L79.6,72.8 Q70,60 57,52.6 Q51,49 45,47.2"/><path fill="#e0162e" d="M30,31.6 L48.8,28.4 L49.6,33 L30,34.6Z"/><path fill="#b4bdcc" d="M72.6,50 L86.6,49 L87,57 L83.6,69.6 L80,72 Q77,62 71.6,55Z"/><path fill="#0c2450" d="M76,53 l4.6,.6 l-.8,4.4 l3,2.4 l-2.2,4.4 l-3,-3.6z"/><path fill="#dfe3ea" d="M74,51 l4,-.4 l-1,3z M82,60 l3,-1 l-1.4,5z"/><path fill="#fff" d="M82.8,37.8 L83.9,40.7 L87.0,40.8 L84.5,42.8 L85.4,45.8 L82.8,44.0 L80.2,45.8 L81.1,42.8 L78.6,40.8 L81.7,40.7Z"/><path fill="#e8eaee" d="M49.6,40 l13,-.6 l-9,2.8z M51,44.6 l11,1 l-7,1.6z"/></svg>
<svg x="975.95" y="629.74" width="38.60" height="38.60" viewBox="0 0 100 100" preserveAspectRatio="none" overflow="hidden"><rect x="-12" y="-12" width="124" height="124" fill="#252a34"/><g filter="url(#b1)"><path fill="#5a2c1c" d="M27,12 Q49,-8 72,12 L68,16 Q49,0 31,16Z"/><ellipse cx="49.1" cy="27" rx="21" ry="19" fill="#dd5f28"/><ellipse cx="42" cy="24" rx="11" ry="12" fill="#ea7436"/><ellipse cx="60" cy="34" rx="7" ry="8" fill="#ee8a52"/><path fill="#de5a24" d="M11,15 L17,12 L23,16 L24,27 L19,33 L12,30 L9.6,22Z M14,28 L22,25 L24.6,33 L18,37 L12,34Z M9.6,39 L17,37.6 L18.6,44 L12,46.4Z"/><path fill="#de5a24" d="M73,16 L80,13 L87,17 L87,26 L82,30 L75,28 L72.6,22Z M78,36 L86,33.6 L89.6,41 L86,46 L79,45.6Z"/><path fill="#f08a4c" d="M13,18 L16,16 L17,22 L14,23Z M76,19 L79,17 L80,23 L77,24Z M81,38 L84,37 L85,42 L82,43Z"/><path fill="#23304a" d="M15,14 L18,22 L21,15 L20,26 L15,26Z M78,15 L81,23 L84,16 L83,27 L78,26Z M18,28 L21,33 L17,35Z M80,36 L84,40 L80,44Z M11,33 L24,31 L24,34 L11,36Z"/><path fill="#8f9698" d="M3,28 L12,26 L13,30 L4,31.6Z M88,27.6 L97,28 L97,30 L88,31Z M10,7 L20,6 L20,8.6 L10,9.4Z M76,7 L86,6.4 L86,9 L76,9.6Z"/><path fill="#2f6ba3" d="M23,41 L74,41 L74,47 L23,47Z M23,34 L28.6,34 L28.6,45 L23,45Z M71,34 L76,34 L76,45 L71,45Z"/><path fill="#1f4e80" d="M27,44.6 L72,44.6 L72,47.4 L27,47.4Z"/><path fill="#8ea0b2" d="M33,20.6 L66.5,20.6 L66.5,26 L33,26Z" opacity=".55"/><path fill="#1c2a44" d="M46.6,7 L51.6,7 L52.4,22 L56,41 L42,41 L45.6,22Z"/><path fill="#466a92" d="M33.6,22 L66,22 L66,24.8 L33.6,24.8Z"/><path fill="#1c2a44" d="M38,31 L60,31 L62,41 L36,41Z" opacity=".75"/><path fill="#c84a22" d="M26,49.4 L68,49.4 L68,51 L26,51Z"/><path fill="#dc541e" d="M12,72 L22,70 L28,76 L25,85 L16,87 L9,82Z M72,71 L81,71 L89,78 L85,87 L76,85 L72,78Z M51,88 L63,87 L61,93 L52,94Z"/><path fill="#23304a" d="M15,76 L22,74 L20,80Z M77,75 L84,78 L79,82Z"/><path fill="#8f9698" d="M2,82 L12,79 L12,82.6 L3,85Z M88,79.6 L97,82 L96,85 L88,82.6Z M4,66 L10,64 L10,67 L4,69Z M90,64 L96,66 L96,69 L90,67Z"/><text x="48.5" y="66.6" text-anchor="middle" font-size="25" font-weight="bold" textLength="76" lengthAdjust="spacingAndGlyphs" style="fill:#d6d2b4;stroke:#1a1e28;stroke-width:.5;paint-order:stroke">HOLAMBRA</text><text x="50.2" y="85.6" text-anchor="middle" font-size="21" font-weight="bold" textLength="42" lengthAdjust="spacingAndGlyphs" style="fill:#d6d2b4;stroke:#1a1e28;stroke-width:.5;paint-order:stroke">DUTCH</text><ellipse cx="49.6" cy="67.8" rx="9.2" ry="4.4" fill="#b9502a"/><path fill="#e9d9c0" d="M44.6,67.2 L54.6,67.2 L54.6,68.4 L44.6,68.4Z"/></g></svg>
<svg x="975.95" y="697.35" width="38.60" height="38.60" viewBox="0 0 100 100" preserveAspectRatio="none" overflow="hidden"><rect width="100" height="100" fill="#000"/><circle cx="49.6" cy="49.6" r="41.8" fill="#fff"/><path fill="#000" d="M50.2,12.2 Q53.9,24.5 68.8,27.6 Q53.9,30.7 50.2,43.0 Q46.5,30.7 31.6,27.6 Q46.5,24.5 50.2,12.2Z M70.0,33.6 Q73.4,46.4 86.8,49.6 Q73.4,52.8 70.0,65.6 Q66.6,52.8 53.2,49.6 Q66.6,46.4 70.0,33.6Z M50.4,57.2 Q54.0,69.2 68.4,72.2 Q54.0,75.2 50.4,87.2 Q46.8,75.2 32.4,72.2 Q46.8,69.2 50.4,57.2Z"/><text x="13" y="53.4" font-size="11.5" font-weight="bold" textLength="33" lengthAdjust="spacingAndGlyphs" style="fill:#222">Steelers</text></svg>
<svg x="975.95" y="764.96" width="38.60" height="38.60" viewBox="0 0 100 100" preserveAspectRatio="none" overflow="hidden"><rect width="100" height="100" fill="#fff"/><rect x="0" width="21" height="100" fill="#a28a4a"/><rect x="20.6" width="15.4" height="100" fill="#990000"/><rect x="63.4" width="14.6" height="100" fill="#990000"/><rect x="77.6" width="22.4" height="100" fill="#a28a4a"/></svg>
<svg x="975.95" y="832.57" width="38.60" height="38.60" viewBox="0 0 100 100" preserveAspectRatio="none" overflow="hidden"><rect width="100" height="100" fill="#fff"/><rect x="0" width="21" height="100" fill="#fda912"/><rect x="20.6" width="15.4" height="100" fill="#1c2b26"/><rect x="63.4" width="14.6" height="100" fill="#1c2b26"/><rect x="77.6" width="22.4" height="100" fill="#fda912"/></svg>
<svg x="975.95" y="900.18" width="38.60" height="38.60" viewBox="0 0 100 100" preserveAspectRatio="none" overflow="hidden"><radialGradient id="u42a" cx="50%" cy="52%" r="70%"><stop offset="0" stop-color="#2390f2"/><stop offset=".5" stop-color="#1868de"/><stop offset="1" stop-color="#07209a"/></radialGradient><rect x="-12" y="-12" width="124" height="124" fill="url(#u42a)"/><g filter="url(#b1)"><path fill="#ff861c" d="M61,1 C56,8 60,12 57,17 C63,14 67,8 72,7 C69,13 73,17 70,23 C76,20 80,14 82,16 C80,24 84,28 88,27 C86,34 92,40 93,46 C90,48 92,56 88,62 L80,70 C84,76 86,80 84,82 C78,80 74,76 70,74 L60,86 C56,92 52,96 49,98 C46,92 40,90 36,86 L30,78 C26,84 20,86 17,84 C20,78 18,72 21,68 L10,60 C6,54 8,46 6,40 C10,44 13,42 14,36 C16,30 13,26 16,23 C20,28 24,26 28,22 C30,18 34,22 36,18 C38,12 46,10 50,6 C54,4 58,2 61,1Z"/><path fill="#ffc62c" d="M38,19 C46,11 56,12 63,18 C70,16 74,23 72,29 C78,34 72,45 65,47 L35,47 C26,43 25,33 30,28 C30,21 34,19 38,19Z"/><path fill="#ffb02a" d="M40,88 C44,84 54,84 58,88 C56,93 52,95.6 49,97 C46,94 42,92 40,88Z"/><path fill="#4a1020" d="M22,62 C30,56 70,56 80,62 C78,80 62,92 50,92 C38,92 24,80 22,62Z"/><path fill="#1c064e" d="M24,60 C34,55 68,55 78,60 C76,77 62,88.6 50,88.6 C38,88.6 26,77 24,60Z"/><path fill="#5a22c8" d="M30,42 C40,39 62,39 74,42 L76,52 L28,52Z"/><path fill="#f1ecff" d="M28.6,43 L33,41.6 L33,49 L28,50Z M69,41.6 L74.6,43 L75,50 L69,49Z"/><path fill="#7a3cf0" d="M38,43 L64,43 L64,46 L38,46Z"/><circle cx="25.8" cy="33.7" r="8.6" fill="#d01850"/><circle cx="27.6" cy="31.4" r="2.6" fill="#8fe0f0"/><circle cx="74.1" cy="32.6" r="9.2" fill="#3cc828"/><circle cx="72" cy="31" r="2.8" fill="#c9f4ff"/><path fill="#1b8a1e" d="M70,38 L80,36 L80,41 L72,42Z"/><circle cx="49.1" cy="28.3" r="12" fill="#2a8fd6"/><path fill="#6fd6f2" d="M40,24 C43,17.6 53,16.6 58,21 C52,20.6 46,22 42,28Z"/><path fill="#14488f" d="M40,32 C44,38 54,40 59,36 L58,28 C54,34 46,34 40,32Z"/><path fill="#2b2f3f" d="M55.6,27 L61,27 L61,35.6 L56,36.6Z"/><path fill="none" stroke="#e8e4ff" stroke-width="1.6" stroke-dasharray="2.2 1.4" d="M33,65.6 L67,65.6"/><path fill="none" stroke="#cfc6f4" stroke-width="1.6" d="M29,66 L30,75 M72,66 L71,75"/><path fill="#2a55c0" d="M46.4,72.4 L54,72.4 L54,77 L46.4,77Z"/><path fill="#e23a3a" d="M46.4,77 L54,77 L53,81 L50.2,82.6 L47.4,81Z"/><path fill="#fff" d="M48,76 L52.6,76 L52.6,78 L48,78Z"/><path fill="#14551b" d="M10,49 C30,45 70,45 90,48 L94,67 L87,64 L82,68.6 L18,68.6 L13,65 L6,71Z"/><path fill="#62f22c" d="M9,57 L17,51 L16,62 L7,70Z M84,51 L90,53 L93.6,67 L86,61Z"/><text x="50" y="66" text-anchor="middle" font-size="25" font-weight="bold" font-style="italic" textLength="71" lengthAdjust="spacingAndGlyphs" style="fill:#5ef02a;stroke:#124d18;stroke-width:1.7;paint-order:stroke">JETSONS</text></g></svg>
<text class="v" x="47.4" y="70.0">0.2</text>
<text class="v" x="47.4" y="137.6">3.4</text>
<text class="v" x="47.4" y="205.2">9.5</text>
<text class="v" x="47.4" y="272.8">11</text>
<text class="v" x="47.4" y="340.4">12.9</text>
<text class="v" x="47.4" y="408.0">17.6</text>
<text class="v" x="47.4" y="475.5">19.4</text>
<text class="v" x="47.4" y="543.1">23.2</text>
<text class="v" x="47.4" y="610.7">29</text>
<text class="v" x="47.4" y="678.3">29.8</text>
<text class="v" x="47.4" y="745.9">34.7</text>
<text class="v" x="47.4" y="813.5">36.3</text>
<text class="v" x="47.4" y="881.1">37.9</text>
<text class="v" x="47.4" y="948.7">42.9</text>
<text class="v" x="521.2" y="70.0">9.2</text>
<text class="v" x="521.2" y="137.6">11.8</text>
<text class="v" x="521.2" y="205.2">14.5</text>
<text class="v" x="521.2" y="272.8">21.2</text>
<text class="v" x="521.2" y="340.4">28.6</text>
<text class="v" x="521.2" y="408.0">31.2</text>
<text class="v" x="521.2" y="475.5">32.4</text>
<text class="v" x="521.2" y="543.1">36.3</text>
<text class="v" x="521.2" y="610.7">42.9</text>
<text class="v" x="521.2" y="678.3">45.9</text>
<text class="v" x="521.2" y="745.9">49.6</text>
<text class="v" x="521.2" y="813.5">53.7</text>
<text class="v" x="521.2" y="881.1">63.5</text>
<text class="v" x="521.2" y="948.7">78.6</text>
<text class="v" x="995.2" y="70.0">15</text>
<text class="v" x="995.2" y="137.6">27.9</text>
<text class="v" x="995.2" y="205.2">33.2</text>
<text class="v" x="995.2" y="272.8">34.8</text>
<text class="v" x="995.2" y="340.4">42</text>
<text class="v" x="995.2" y="408.0">46.9</text>
<text class="v" x="995.2" y="475.5">51.2</text>
<text class="v" x="995.2" y="543.1">55</text>
<text class="v" x="995.2" y="610.7">57.6</text>
<text class="v" x="995.2" y="678.3">57.8</text>
<text class="v" x="995.2" y="745.9">66.5</text>
<text class="v" x="995.2" y="813.5">69</text>
<text class="v" x="995.2" y="881.1">80.1</text>
<text class="v" x="995.2" y="948.7">104.3</text>
<text class="lt" x="1058" y="161.2">teamName</text>
<line x1="1062.2" x2="1099.1" y1="201.6" y2="201.6" stroke="#9e8546" stroke-opacity="0.60" stroke-width="11.2"/>
<text class="lg" x="1118.4" y="209.8">Sorocaba Wild Mules</text>
<line x1="1062.2" x2="1099.1" y1="247.7" y2="247.7" stroke="#000000" stroke-opacity="0.60" stroke-width="11.2"/>
<text class="lg" x="1118.4" y="255.9">Paulinia Robots</text>
<line x1="1062.2" x2="1099.1" y1="293.8" y2="293.8" stroke="#071926" stroke-opacity="0.60" stroke-width="11.2"/>
<text class="lg" x="1118.4" y="302.0">Rio Claro Farmers</text>
<line x1="1062.2" x2="1099.1" y1="339.8" y2="339.8" stroke="#080f53" stroke-opacity="0.60" stroke-width="11.2"/>
<text class="lg" x="1118.4" y="348.0">Campinas Giants</text>
<line x1="1062.2" x2="1099.1" y1="385.9" y2="385.9" stroke="#f78289" stroke-opacity="0.60" stroke-width="11.2"/>
<text class="lg" x="1118.4" y="394.1">Indaiatuba Blues</text>
<line x1="1062.2" x2="1099.1" y1="432.0" y2="432.0" stroke="#919ba0" stroke-opacity="0.60" stroke-width="11.2"/>
<text class="lg" x="1118.4" y="440.2">Limeira Dead Rabbits</text>
<line x1="1062.2" x2="1099.1" y1="478.1" y2="478.1" stroke="#086bc0" stroke-opacity="0.60" stroke-width="11.2"/>
<text class="lg" x="1118.4" y="486.3">London Knights</text>
<line x1="1062.2" x2="1099.1" y1="524.2" y2="524.2" stroke="#fc6600" stroke-opacity="0.60" stroke-width="11.2"/>
<text class="lg" x="1118.4" y="532.4">Holambra Dutch</text>
<line x1="1062.2" x2="1099.1" y1="570.2" y2="570.2" stroke="#212f2a" stroke-opacity="0.60" stroke-width="11.2"/>
<text class="lg" x="1118.4" y="578.4">Indaiatuba Pats</text>
<line x1="1062.2" x2="1099.1" y1="616.3" y2="616.3" stroke="#582691" stroke-opacity="0.60" stroke-width="11.2"/>
<text class="lg" x="1118.4" y="624.5">Indaiatuba Riders</text>
<line x1="1062.2" x2="1099.1" y1="662.4" y2="662.4" stroke="#940726" stroke-opacity="0.60" stroke-width="11.2"/>
<text class="lg" x="1118.4" y="670.6">Sorocaba Steelers</text>
<line x1="1062.2" x2="1099.1" y1="708.5" y2="708.5" stroke="#940726" stroke-opacity="0.60" stroke-width="11.2"/>
<text class="lg" x="1118.4" y="716.7">Amparo Bikers</text>
<line x1="1062.2" x2="1099.1" y1="754.6" y2="754.6" stroke="#ffa30d" stroke-opacity="0.60" stroke-width="11.2"/>
<text class="lg" x="1118.4" y="762.8">Barao Butchers</text>
<line x1="1062.2" x2="1099.1" y1="800.6" y2="800.6" stroke="#0c3943" stroke-opacity="0.60" stroke-width="11.2"/>
<text class="lg" x="1118.4" y="808.8">Limeira Jetsons</text>
</svg>
</body></html>
